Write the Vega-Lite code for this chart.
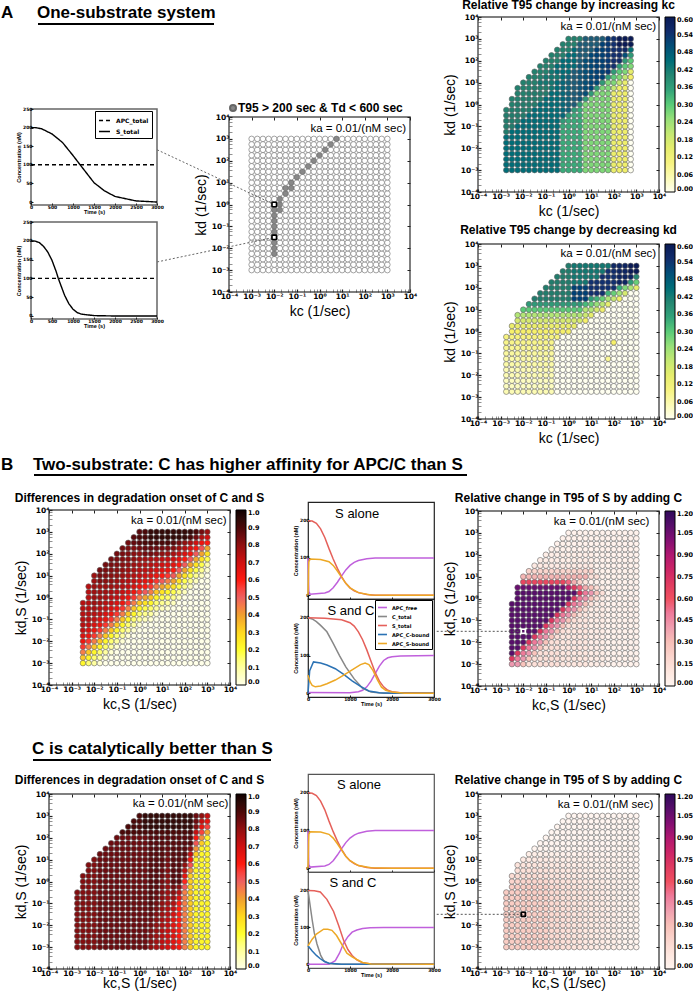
{"$schema":"https://vega.github.io/schema/vega-lite/v6.json","padding":{"left":1,"top":-2,"right":0,"bottom":0},"background":"white",
"config":{"view":{"stroke":null},"axis":{"grid":false,"domain":false,"labelFont":"DejaVu Sans","labelFontWeight":"bold","labelFontSize":7.5,"labelColor":"black","tickColor":"#222","titleFont":"Liberation Sans","titleFontWeight":"normal","titleFontSize":14,"titleColor":"black","labelPadding":3,"labelOverlap":false,"labelFlush":false},"legend":{"title":null,"orient":"right","offset":5,"gradientLength":175,"gradientThickness":10,"labelFont":"DejaVu Sans","labelFontWeight":"bold","labelFontSize":6.5,"labelColor":"black","gradientStrokeColor":"black","gradientStrokeWidth":1,"labelOverlap":false,"labelOffset":1}},
"datasets":{"grid":[
{"x":-12,"y":-12},{"x":-11,"y":-12,"a":45,"e":82,"f":24},{"x":-10,"y":-12,"a":45,"c":22,"d":42,"e":82,"f":24},{"x":-9,"y":-12,"a":45,"c":15,"d":42,"e":82,"f":24},{"x":-8,"y":-12,"a":45,"c":10,"d":28,"e":82,"f":24},{"x":-7,"y":-12,"a":45,"c":3,"d":15,"e":85,"f":24},{"x":-6,"y":-12,"a":45,"c":0,"d":15,"e":85,"f":24},{"x":-5,"y":-12,"a":45,"c":0,"d":15,"e":85,"f":22},{"x":-4,"y":-12,"a":45,"c":0,"d":15,"e":85,"f":22},{"x":-3,"y":-12,"a":45,"c":0,"d":15,"e":85,"f":18},{"x":-2,"y":-12,"a":45,"c":0,"d":15,"e":85,"f":18},{"x":-1,"y":-12,"a":34,"c":0,"d":10,"e":85,"f":15},{"x":0,"y":-12,"a":34,"c":0,"d":10,"e":85,"f":15},{"x":1,"y":-12,"a":34,"c":0,"d":10,"e":85,"f":12},{"x":2,"y":-12,"a":34,"c":0,"d":10,"e":80,"f":12},{"x":3,"y":-12,"a":27,"c":0,"d":10,"e":76,"f":9},{"x":4,"y":-12,"a":27,"c":0,"d":6,"e":72,"f":9},{"x":5,"y":-12,"a":27,"c":0,"d":6,"e":68,"f":7},{"x":6,"y":-12,"a":27,"c":0,"d":6,"e":66,"f":7},{"x":7,"y":-12,"a":27,"c":0,"d":2,"e":60,"f":5},{"x":8,"y":-12,"a":14,"c":0,"d":2,"e":45,"f":5},{"x":9,"y":-12,"a":13,"c":0,"d":2,"e":32,"f":3},{"x":10,"y":-12,"a":13,"c":0,"d":2,"e":22,"f":1},{"x":11,"y":-12,"a":0,"c":0,"d":2,"e":22,"f":1},{"x":12,"y":-12,"c":0,"d":2,"e":22,"f":1},
{"x":-12,"y":-11},{"x":-11,"y":-11,"a":45,"b":5,"e":82,"f":24},{"x":-10,"y":-11,"a":45,"b":5,"c":33,"d":72,"e":82,"f":24},{"x":-9,"y":-11,"a":45,"b":5,"c":22,"d":50,"e":82,"f":24},{"x":-8,"y":-11,"a":45,"b":5,"c":15,"d":42,"e":82,"f":24},{"x":-7,"y":-11,"a":45,"b":5,"c":10,"d":28,"e":85,"f":24},{"x":-6,"y":-11,"a":45,"b":5,"c":3,"d":15,"e":85,"f":24},{"x":-5,"y":-11,"a":45,"b":5,"c":0,"d":15,"e":85,"f":22},{"x":-4,"y":-11,"a":45,"b":5,"c":0,"d":15,"e":85,"f":22},{"x":-3,"y":-11,"a":45,"b":5,"c":0,"d":15,"e":85,"f":18},{"x":-2,"y":-11,"a":45,"b":0,"c":0,"d":15,"e":85,"f":18},{"x":-1,"y":-11,"a":34,"b":0,"c":0,"d":10,"e":85,"f":15},{"x":0,"y":-11,"a":34,"b":0,"c":0,"d":10,"e":85,"f":15},{"x":1,"y":-11,"a":34,"b":0,"c":0,"d":10,"e":85,"f":12},{"x":2,"y":-11,"a":34,"b":0,"c":0,"d":10,"e":81,"f":12},{"x":3,"y":-11,"a":27,"b":0,"c":0,"d":10,"e":77,"f":9},{"x":4,"y":-11,"a":27,"b":0,"c":0,"d":6,"e":73,"f":9},{"x":5,"y":-11,"a":27,"b":0,"c":0,"d":6,"e":69,"f":7},{"x":6,"y":-11,"a":27,"b":0,"c":0,"d":6,"e":66,"f":7},{"x":7,"y":-11,"a":27,"b":0,"c":0,"d":2,"e":60,"f":5},{"x":8,"y":-11,"a":14,"b":0,"c":0,"d":2,"e":45,"f":5},{"x":9,"y":-11,"a":13,"b":0,"c":0,"d":2,"e":32,"f":3},{"x":10,"y":-11,"a":13,"b":0,"c":0,"d":2,"e":22,"f":1},{"x":11,"y":-11,"a":0,"b":0,"c":0,"d":2,"e":22,"f":1},{"x":12,"y":-11,"b":0,"c":0,"d":2,"e":22,"f":1},
{"x":-12,"y":-10},{"x":-11,"y":-10,"a":45,"b":4,"e":82,"f":24},{"x":-10,"y":-10,"a":45,"b":4,"c":45,"d":110,"e":82,"f":24},{"x":-9,"y":-10,"a":45,"b":4,"c":33,"d":72,"e":82,"f":24},{"x":-8,"y":-10,"a":45,"b":4,"c":22,"d":50,"e":82,"f":24},{"x":-7,"y":-10,"a":45,"b":4,"c":15,"d":42,"e":85,"f":24},{"x":-6,"y":-10,"a":45,"b":4,"c":10,"d":28,"e":85,"f":24},{"x":-5,"y":-10,"a":45,"b":4,"c":3,"d":15,"e":85,"f":22},{"x":-4,"y":-10,"a":45,"b":4,"c":0,"d":15,"e":85,"f":22},{"x":-3,"y":-10,"a":45,"b":4,"c":0,"d":15,"e":85,"f":18},{"x":-2,"y":-10,"a":45,"b":0,"c":0,"d":15,"e":85,"f":18},{"x":-1,"y":-10,"a":34,"b":0,"c":0,"d":10,"e":85,"f":15},{"x":0,"y":-10,"a":34,"b":0,"c":0,"d":10,"e":85,"f":15},{"x":1,"y":-10,"a":34,"b":0,"c":0,"d":10,"e":85,"f":12},{"x":2,"y":-10,"a":34,"b":0,"c":0,"d":10,"e":82,"f":12},{"x":3,"y":-10,"a":27,"b":0,"c":0,"d":10,"e":78,"f":9},{"x":4,"y":-10,"a":27,"b":0,"c":0,"d":6,"e":74,"f":9},{"x":5,"y":-10,"a":27,"b":0,"c":0,"d":6,"e":70,"f":7},{"x":6,"y":-10,"a":27,"b":0,"c":0,"d":6,"e":66,"f":7},{"x":7,"y":-10,"a":27,"b":0,"c":0,"d":2,"e":60,"f":5},{"x":8,"y":-10,"a":14,"b":0,"c":0,"d":2,"e":45,"f":5},{"x":9,"y":-10,"a":13,"b":0,"c":0,"d":2,"e":32,"f":3},{"x":10,"y":-10,"a":13,"b":0,"c":0,"d":2,"e":22,"f":1},{"x":11,"y":-10,"a":0,"b":0,"c":0,"d":2,"e":22,"f":1},{"x":12,"y":-10,"b":0,"c":0,"d":2,"e":22,"f":1},
{"x":-12,"y":-9},{"x":-11,"y":-9,"a":45,"b":4,"e":82,"f":24},{"x":-10,"y":-9,"a":45,"b":4,"c":57,"d":110,"e":82,"f":24},{"x":-9,"y":-9,"a":45,"b":4,"c":45,"d":110,"e":82,"f":24},{"x":-8,"y":-9,"m":1,"a":45,"b":4,"c":33,"d":72,"e":82,"f":24},{"x":-7,"y":-9,"a":45,"b":4,"c":22,"d":50,"e":85,"f":24},{"x":-6,"y":-9,"a":45,"b":4,"c":15,"d":42,"e":85,"f":24},{"x":-5,"y":-9,"a":45,"b":4,"c":10,"d":28,"e":85,"f":22},{"x":-4,"y":-9,"a":45,"b":4,"c":3,"d":15,"e":85,"f":22},{"x":-3,"y":-9,"a":45,"b":4,"c":0,"d":15,"e":85,"f":18},{"x":-2,"y":-9,"a":45,"b":0,"c":0,"d":15,"e":85,"f":18},{"x":-1,"y":-9,"a":34,"b":0,"c":0,"d":10,"e":85,"f":15},{"x":0,"y":-9,"a":34,"b":0,"c":0,"d":10,"e":85,"f":15},{"x":1,"y":-9,"a":34,"b":0,"c":0,"d":10,"e":85,"f":12},{"x":2,"y":-9,"a":34,"b":0,"c":0,"d":10,"e":83,"f":12},{"x":3,"y":-9,"a":27,"b":0,"c":0,"d":10,"e":79,"f":9},{"x":4,"y":-9,"a":27,"b":0,"c":0,"d":6,"e":75,"f":9},{"x":5,"y":-9,"a":27,"b":0,"c":0,"d":6,"e":71,"f":7},{"x":6,"y":-9,"a":27,"b":0,"c":0,"d":6,"e":66,"f":7},{"x":7,"y":-9,"a":27,"b":0,"c":0,"d":2,"e":60,"f":5},{"x":8,"y":-9,"a":14,"b":0,"c":0,"d":2,"e":45,"f":5},{"x":9,"y":-9,"a":13,"b":0,"c":0,"d":2,"e":32,"f":3},{"x":10,"y":-9,"a":13,"b":0,"c":0,"d":2,"e":22,"f":1},{"x":11,"y":-9,"a":0,"b":0,"c":0,"d":2,"e":22,"f":1},{"x":12,"y":-9,"b":0,"c":0,"d":2,"e":22,"f":1},
{"x":-12,"y":-8},{"x":-11,"y":-8,"a":45,"b":5,"e":82,"f":24},{"x":-10,"y":-8,"a":45,"b":5,"c":64,"d":110,"e":82,"f":24},{"x":-9,"y":-8,"a":45,"b":5,"c":57,"d":110,"e":82,"f":24},{"x":-8,"y":-8,"m":1,"a":45,"b":5,"c":45,"d":110,"e":82,"f":24},{"x":-7,"y":-8,"a":45,"b":5,"c":33,"d":72,"e":85,"f":24},{"x":-6,"y":-8,"a":45,"b":5,"c":22,"d":50,"e":85,"f":24},{"x":-5,"y":-8,"a":45,"b":5,"c":15,"d":42,"e":85,"f":22},{"x":-4,"y":-8,"a":45,"b":5,"c":10,"d":28,"e":85,"f":22},{"x":-3,"y":-8,"a":45,"b":5,"c":3,"d":15,"e":85,"f":18},{"x":-2,"y":-8,"a":45,"b":0,"c":0,"d":15,"e":85,"f":18},{"x":-1,"y":-8,"a":34,"b":0,"c":0,"d":10,"e":85,"f":15},{"x":0,"y":-8,"a":34,"b":0,"c":0,"d":10,"e":85,"f":15},{"x":1,"y":-8,"a":34,"b":0,"c":0,"d":10,"e":85,"f":12},{"x":2,"y":-8,"a":34,"b":0,"c":0,"d":10,"e":84,"f":12},{"x":3,"y":-8,"a":27,"b":0,"c":0,"d":10,"e":80,"f":9},{"x":4,"y":-8,"a":27,"b":0,"c":0,"d":6,"e":76,"f":9},{"x":5,"y":-8,"a":27,"b":0,"c":0,"d":6,"e":72,"f":7},{"x":6,"y":-8,"a":27,"b":0,"c":0,"d":6,"e":66,"f":7},{"x":7,"y":-8,"a":27,"b":0,"c":0,"d":2,"e":60,"f":5},{"x":8,"y":-8,"a":14,"b":0,"c":0,"d":2,"e":45,"f":5},{"x":9,"y":-8,"a":13,"b":0,"c":0,"d":2,"e":32,"f":3},{"x":10,"y":-8,"a":13,"b":0,"c":0,"d":2,"e":22,"f":1},{"x":11,"y":-8,"a":0,"b":0,"c":0,"d":2,"e":22,"f":1},{"x":12,"y":-8,"b":0,"c":0,"d":2,"e":22,"f":1},
{"x":-12,"y":-7},{"x":-11,"y":-7,"a":45,"b":5,"e":82,"f":24},{"x":-10,"y":-7,"a":45,"b":5,"c":68,"d":110,"e":82,"f":24},{"x":-9,"y":-7,"a":45,"b":5,"c":64,"d":110,"e":82,"f":24},{"x":-8,"y":-7,"m":1,"a":45,"b":5,"c":57,"d":110,"e":82,"f":24},{"x":-7,"y":-7,"a":45,"b":5,"c":45,"d":110,"e":85,"f":24},{"x":-6,"y":-7,"a":45,"b":5,"c":33,"d":72,"e":85,"f":24},{"x":-5,"y":-7,"a":45,"b":5,"c":22,"d":50,"e":85,"f":22},{"x":-4,"y":-7,"a":45,"b":5,"c":15,"d":42,"e":85,"f":22},{"x":-3,"y":-7,"a":45,"b":5,"c":10,"d":28,"e":85,"f":18},{"x":-2,"y":-7,"a":45,"b":0,"c":3,"d":15,"e":85,"f":18},{"x":-1,"y":-7,"a":34,"b":0,"c":0,"d":10,"e":85,"f":15},{"x":0,"y":-7,"a":34,"b":0,"c":0,"d":10,"e":85,"f":15},{"x":1,"y":-7,"a":34,"b":0,"c":0,"d":10,"e":85,"f":12},{"x":2,"y":-7,"a":34,"b":0,"c":0,"d":10,"e":85,"f":12},{"x":3,"y":-7,"a":27,"b":0,"c":0,"d":10,"e":81,"f":9},{"x":4,"y":-7,"a":27,"b":0,"c":0,"d":6,"e":77,"f":9},{"x":5,"y":-7,"a":27,"b":0,"c":0,"d":6,"e":73,"f":7},{"x":6,"y":-7,"a":27,"b":0,"c":0,"d":6,"e":66,"f":7},{"x":7,"y":-7,"a":27,"b":0,"c":0,"d":2,"e":60,"f":5},{"x":8,"y":-7,"a":14,"b":0,"c":0,"d":2,"e":45,"f":5},{"x":9,"y":-7,"a":13,"b":0,"c":0,"d":2,"e":32,"f":3},{"x":10,"y":-7,"a":13,"b":0,"c":0,"d":2,"e":22,"f":1},{"x":11,"y":-7,"a":0,"b":0,"c":0,"d":2,"e":22,"f":1},{"x":12,"y":-7,"b":0,"c":0,"d":2,"e":22,"f":1},
{"x":-12,"y":-6},{"x":-11,"y":-6,"a":45,"b":6,"e":82,"f":24},{"x":-10,"y":-6,"a":45,"b":6,"c":72,"d":110,"e":82,"f":24},{"x":-9,"y":-6,"a":45,"b":6,"c":68,"d":110,"e":82,"f":24},{"x":-8,"y":-6,"m":1,"a":45,"b":6,"c":64,"d":110,"e":82,"f":24},{"x":-7,"y":-6,"a":45,"b":6,"c":57,"d":110,"e":85,"f":24},{"x":-6,"y":-6,"a":45,"b":6,"c":45,"d":110,"e":85,"f":24},{"x":-5,"y":-6,"a":45,"b":6,"c":33,"d":72,"e":85,"f":22},{"x":-4,"y":-6,"a":45,"b":6,"c":22,"d":50,"e":85,"f":22},{"x":-3,"y":-6,"a":45,"b":6,"c":15,"d":42,"e":85,"f":18},{"x":-2,"y":-6,"a":45,"b":0,"c":10,"d":28,"e":85,"f":18},{"x":-1,"y":-6,"a":34,"b":0,"c":3,"d":15,"e":85,"f":15},{"x":0,"y":-6,"a":34,"b":0,"c":0,"d":10,"e":85,"f":15},{"x":1,"y":-6,"a":34,"b":0,"c":0,"d":10,"e":85,"f":12},{"x":2,"y":-6,"a":34,"b":0,"c":0,"d":10,"e":86,"f":12},{"x":3,"y":-6,"a":27,"b":0,"c":0,"d":10,"e":82,"f":9},{"x":4,"y":-6,"a":27,"b":0,"c":0,"d":6,"e":78,"f":9},{"x":5,"y":-6,"a":27,"b":0,"c":0,"d":6,"e":74,"f":7},{"x":6,"y":-6,"a":27,"b":0,"c":0,"d":6,"e":69,"f":7},{"x":7,"y":-6,"a":27,"b":0,"c":0,"d":2,"e":60,"f":5},{"x":8,"y":-6,"a":14,"b":0,"c":0,"d":2,"e":45,"f":5},{"x":9,"y":-6,"a":13,"b":0,"c":0,"d":2,"e":32,"f":3},{"x":10,"y":-6,"a":13,"b":0,"c":0,"d":2,"e":22,"f":1},{"x":11,"y":-6,"a":0,"b":0,"c":0,"d":2,"e":22,"f":1},{"x":12,"y":-6,"b":0,"c":0,"d":2,"e":22,"f":1},
{"x":-12,"y":-5},{"x":-11,"y":-5,"a":42,"b":6,"e":82,"f":24},{"x":-10,"y":-5,"a":45,"b":6,"c":74,"d":110,"e":82,"f":24},{"x":-9,"y":-5,"a":45,"b":6,"c":72,"d":110,"e":82,"f":24},{"x":-8,"y":-5,"m":1,"a":45,"b":6,"c":68,"d":110,"e":82,"f":24},{"x":-7,"y":-5,"a":45,"b":6,"c":64,"d":110,"e":85,"f":24},{"x":-6,"y":-5,"a":45,"b":6,"c":57,"d":110,"e":85,"f":24},{"x":-5,"y":-5,"a":45,"b":6,"c":45,"d":110,"e":85,"f":22},{"x":-4,"y":-5,"a":45,"b":6,"c":33,"d":72,"e":85,"f":22},{"x":-3,"y":-5,"a":45,"b":6,"c":22,"d":50,"e":85,"f":18},{"x":-2,"y":-5,"a":45,"b":0,"c":15,"d":42,"e":85,"f":18},{"x":-1,"y":-5,"a":34,"b":0,"c":10,"d":28,"e":85,"f":15},{"x":0,"y":-5,"a":34,"b":0,"c":3,"d":15,"e":85,"f":15},{"x":1,"y":-5,"a":34,"b":0,"c":0,"d":10,"e":85,"f":12},{"x":2,"y":-5,"a":34,"b":0,"c":0,"d":10,"e":87,"f":12},{"x":3,"y":-5,"a":27,"b":0,"c":0,"d":10,"e":83,"f":9},{"x":4,"y":-5,"a":27,"b":0,"c":0,"d":6,"e":79,"f":9},{"x":5,"y":-5,"a":27,"b":0,"c":0,"d":6,"e":75,"f":7},{"x":6,"y":-5,"a":27,"b":0,"c":0,"d":6,"e":72,"f":7},{"x":7,"y":-5,"a":27,"b":8,"c":0,"d":2,"e":60,"f":5},{"x":8,"y":-5,"a":14,"b":0,"c":0,"d":2,"e":45,"f":5},{"x":9,"y":-5,"a":13,"b":0,"c":0,"d":2,"e":32,"f":3},{"x":10,"y":-5,"a":13,"b":0,"c":0,"d":2,"e":22,"f":1},{"x":11,"y":-5,"a":0,"b":0,"c":0,"d":2,"e":22,"f":1},{"x":12,"y":-5,"b":0,"c":0,"d":2,"e":22,"f":1},
{"x":-12,"y":-4},{"x":-11,"y":-4,"a":42,"b":7,"e":82,"f":24},{"x":-10,"y":-4,"a":42,"b":7,"c":74,"d":110,"e":82,"f":24},{"x":-9,"y":-4,"a":45,"b":7,"c":74,"d":110,"e":82,"f":24},{"x":-8,"y":-4,"m":1,"a":45,"b":7,"c":72,"d":110,"e":82,"f":24},{"x":-7,"y":-4,"a":45,"b":7,"c":68,"d":110,"e":85,"f":24},{"x":-6,"y":-4,"a":45,"b":7,"c":64,"d":110,"e":85,"f":24},{"x":-5,"y":-4,"a":45,"b":7,"c":57,"d":110,"e":85,"f":22},{"x":-4,"y":-4,"a":45,"b":7,"c":45,"d":110,"e":85,"f":22},{"x":-3,"y":-4,"a":45,"b":7,"c":33,"d":72,"e":85,"f":18},{"x":-2,"y":-4,"a":45,"b":0,"c":22,"d":50,"e":85,"f":18},{"x":-1,"y":-4,"a":34,"b":0,"c":15,"d":42,"e":85,"f":15},{"x":0,"y":-4,"a":34,"b":0,"c":10,"d":28,"e":85,"f":15},{"x":1,"y":-4,"a":34,"b":0,"c":6,"d":15,"e":85,"f":12},{"x":2,"y":-4,"a":34,"b":0,"c":3,"d":10,"e":88,"f":12},{"x":3,"y":-4,"a":27,"b":0,"c":0,"d":10,"e":84,"f":9},{"x":4,"y":-4,"a":27,"b":0,"c":0,"d":6,"e":80,"f":9},{"x":5,"y":-4,"a":27,"b":0,"c":0,"d":6,"e":76,"f":7},{"x":6,"y":-4,"a":27,"b":0,"c":0,"d":6,"e":75,"f":7},{"x":7,"y":-4,"a":27,"b":0,"c":0,"d":2,"e":60,"f":5},{"x":8,"y":-4,"a":14,"b":0,"c":0,"d":2,"e":45,"f":5},{"x":9,"y":-4,"a":13,"b":0,"c":0,"d":2,"e":32,"f":3},{"x":10,"y":-4,"a":13,"b":0,"c":0,"d":2,"e":22,"f":1},{"x":11,"y":-4,"a":0,"b":0,"c":0,"d":2,"e":22,"f":1},{"x":12,"y":-4,"b":0,"c":0,"d":2,"e":22,"f":1},
{"x":-12,"y":-3},{"x":-11,"y":-3,"a":42,"b":8,"e":82,"f":24},{"x":-10,"y":-3,"a":42,"b":8,"c":74,"d":110,"e":82,"f":24},{"x":-9,"y":-3,"a":42,"b":8,"c":74,"d":110,"e":82,"f":24},{"x":-8,"y":-3,"m":1,"a":45,"b":8,"c":74,"d":110,"e":82,"f":24},{"x":-7,"y":-3,"a":45,"b":8,"c":72,"d":110,"e":85,"f":24},{"x":-6,"y":-3,"a":45,"b":8,"c":68,"d":110,"e":85,"f":24},{"x":-5,"y":-3,"a":45,"b":8,"c":64,"d":110,"e":85,"f":22},{"x":-4,"y":-3,"a":45,"b":8,"c":57,"d":110,"e":85,"f":22},{"x":-3,"y":-3,"a":45,"b":8,"c":45,"d":110,"e":85,"f":18},{"x":-2,"y":-3,"a":45,"b":0,"c":33,"d":72,"e":85,"f":18},{"x":-1,"y":-3,"a":36,"b":0,"c":22,"d":50,"e":85,"f":15},{"x":0,"y":-3,"a":34,"b":0,"c":15,"d":42,"e":85,"f":15},{"x":1,"y":-3,"a":34,"b":0,"c":12,"d":28,"e":85,"f":12},{"x":2,"y":-3,"a":34,"b":0,"c":10,"d":15,"e":88,"f":12},{"x":3,"y":-3,"a":27,"b":0,"c":3,"d":10,"e":85,"f":9},{"x":4,"y":-3,"a":27,"b":0,"c":0,"d":6,"e":81,"f":9},{"x":5,"y":-3,"a":27,"b":0,"c":0,"d":6,"e":77,"f":7},{"x":6,"y":-3,"a":27,"b":0,"c":0,"d":6,"e":78,"f":7},{"x":7,"y":-3,"a":27,"b":0,"c":0,"d":2,"e":67,"f":5},{"x":8,"y":-3,"a":14,"b":0,"c":0,"d":2,"e":45,"f":5},{"x":9,"y":-3,"a":13,"b":0,"c":0,"d":2,"e":32,"f":3},{"x":10,"y":-3,"a":13,"b":0,"c":0,"d":2,"e":22,"f":1},{"x":11,"y":-3,"a":0,"b":0,"c":0,"d":2,"e":22,"f":1},{"x":12,"y":-3,"b":0,"c":0,"d":2,"e":22,"f":1},
{"x":-12,"y":-2},{"x":-11,"y":-2,"a":42,"b":9,"e":82,"f":24},{"x":-10,"y":-2,"a":42,"b":9,"c":74,"d":110,"e":82,"f":24},{"x":-9,"y":-2,"a":42,"b":9,"c":74,"d":110,"e":82,"f":24},{"x":-8,"y":-2,"m":1,"a":42,"b":9,"c":76,"d":110,"e":82,"f":24},{"x":-7,"y":-2,"a":45,"b":9,"c":74,"d":110,"e":85,"f":24},{"x":-6,"y":-2,"a":45,"b":9,"c":72,"d":110,"e":85,"f":24},{"x":-5,"y":-2,"a":45,"b":9,"c":68,"d":110,"e":85,"f":22},{"x":-4,"y":-2,"a":45,"b":9,"c":64,"d":110,"e":85,"f":22},{"x":-3,"y":-2,"a":45,"b":9,"c":57,"d":110,"e":85,"f":18},{"x":-2,"y":-2,"a":45,"b":0,"c":45,"d":110,"e":85,"f":18},{"x":-1,"y":-2,"a":46,"b":0,"c":33,"d":72,"e":85,"f":15},{"x":0,"y":-2,"a":36,"b":0,"c":22,"d":50,"e":85,"f":15},{"x":1,"y":-2,"a":34,"b":0,"c":18,"d":42,"e":85,"f":12},{"x":2,"y":-2,"a":34,"b":0,"c":15,"d":28,"e":88,"f":12},{"x":3,"y":-2,"a":27,"b":0,"c":10,"d":15,"e":86,"f":9},{"x":4,"y":-2,"a":27,"b":0,"c":6,"d":6,"e":82,"f":9},{"x":5,"y":-2,"a":27,"b":0,"c":3,"d":6,"e":78,"f":7},{"x":6,"y":-2,"a":27,"b":0,"c":0,"d":6,"e":81,"f":7},{"x":7,"y":-2,"a":27,"b":0,"c":0,"d":2,"e":74,"f":5},{"x":8,"y":-2,"a":14,"b":12,"c":0,"d":2,"e":45,"f":5},{"x":9,"y":-2,"a":13,"b":0,"c":0,"d":2,"e":32,"f":3},{"x":10,"y":-2,"a":13,"b":0,"c":0,"d":2,"e":22,"f":1},{"x":11,"y":-2,"a":0,"b":0,"c":0,"d":2,"e":22,"f":1},{"x":12,"y":-2,"b":0,"c":0,"d":2,"e":22,"f":1},
{"x":-12,"y":-1},{"x":-11,"y":-1,"a":41,"b":10},{"x":-10,"y":-1,"a":42,"b":10,"c":74,"d":110,"e":82,"f":24},{"x":-9,"y":-1,"a":42,"b":10,"c":74,"d":110,"e":82,"f":24},{"x":-8,"y":-1,"m":1,"a":42,"b":10,"c":78,"d":110,"e":82,"f":24},{"x":-7,"y":-1,"m":1,"a":42,"b":10,"c":76,"d":110,"e":85,"f":24},{"x":-6,"y":-1,"a":45,"b":10,"c":74,"d":110,"e":85,"f":24},{"x":-5,"y":-1,"a":45,"b":10,"c":72,"d":110,"e":85,"f":22},{"x":-4,"y":-1,"a":45,"b":10,"c":68,"d":110,"e":85,"f":22},{"x":-3,"y":-1,"a":45,"b":10,"c":64,"d":110,"e":85,"f":18},{"x":-2,"y":-1,"a":45,"b":10,"c":57,"d":110,"e":85,"f":18},{"x":-1,"y":-1,"a":46,"b":0,"c":45,"d":110,"e":85,"f":15},{"x":0,"y":-1,"a":47,"b":0,"c":33,"d":72,"e":85,"f":15},{"x":1,"y":-1,"a":36,"b":0,"c":27,"d":50,"e":85,"f":12},{"x":2,"y":-1,"a":34,"b":0,"c":22,"d":42,"e":88,"f":12},{"x":3,"y":-1,"a":27,"b":0,"c":15,"d":28,"e":87,"f":9},{"x":4,"y":-1,"a":27,"b":0,"c":12,"d":15,"e":83,"f":9},{"x":5,"y":-1,"a":27,"b":0,"c":10,"d":6,"e":79,"f":7},{"x":6,"y":-1,"a":27,"b":0,"c":6,"d":6,"e":84,"f":7},{"x":7,"y":-1,"a":27,"b":0,"c":0,"d":2,"e":81,"f":5},{"x":8,"y":-1,"a":14,"b":0,"c":0,"d":2,"e":52,"f":5},{"x":9,"y":-1,"a":13,"b":0,"c":0,"d":2,"e":32,"f":3},{"x":10,"y":-1,"a":13,"b":0,"c":0,"d":2,"e":22,"f":1},{"x":11,"y":-1,"a":0,"b":0,"c":0,"d":2,"e":22,"f":1},{"x":12,"y":-1,"b":0,"c":0,"d":2,"e":22,"f":1},
{"x":-12,"y":0},{"x":-11,"y":0},{"x":-10,"y":0,"a":41,"b":12,"e":82,"f":20},{"x":-9,"y":0,"a":42,"b":12,"c":74,"d":110,"e":82,"f":20},{"x":-8,"y":0,"m":1,"a":42,"b":12,"c":78,"d":110,"e":82,"f":20},{"x":-7,"y":0,"m":1,"a":42,"b":12,"c":78,"d":110,"e":85,"f":20},{"x":-6,"y":0,"a":42,"b":12,"c":76,"d":110,"e":85,"f":20},{"x":-5,"y":0,"a":45,"b":12,"c":74,"d":110,"e":85,"f":19},{"x":-4,"y":0,"a":45,"b":12,"c":72,"d":110,"e":85,"f":19},{"x":-3,"y":0,"a":45,"b":12,"c":68,"d":110,"e":85,"f":15},{"x":-2,"y":0,"a":45,"b":12,"c":64,"d":110,"e":85,"f":15},{"x":-1,"y":0,"a":46,"b":12,"c":57,"d":110,"e":85,"f":13},{"x":0,"y":0,"a":47,"b":12,"c":45,"d":110,"e":85,"f":13},{"x":1,"y":0,"a":48,"b":0,"c":39,"d":72,"e":85,"f":10},{"x":2,"y":0,"a":36,"b":0,"c":33,"d":50,"e":88,"f":10},{"x":3,"y":0,"a":27,"b":0,"c":22,"d":42,"e":88,"f":8},{"x":4,"y":0,"a":27,"b":0,"c":18,"d":28,"e":84,"f":8},{"x":5,"y":0,"a":27,"b":0,"c":15,"d":15,"e":80,"f":6},{"x":6,"y":0,"a":27,"b":0,"c":12,"d":6,"e":88,"f":6},{"x":7,"y":0,"a":27,"b":0,"c":6,"d":2,"e":88,"f":4},{"x":8,"y":0,"a":14,"b":0,"c":0,"d":2,"e":59,"f":4},{"x":9,"y":0,"a":13,"b":0,"c":0,"d":2,"e":32,"f":3},{"x":10,"y":0,"a":13,"b":0,"c":0,"d":2,"e":22,"f":1},{"x":11,"y":0,"a":0,"b":0,"c":0,"d":2,"e":22,"f":1},{"x":12,"y":0,"b":0,"c":0,"d":2,"e":22,"f":1},
{"x":-12,"y":1},{"x":-11,"y":1},{"x":-10,"y":1,"a":41,"b":14,"e":82,"f":17},{"x":-9,"y":1,"a":41,"b":14,"c":74,"d":110,"e":82,"f":17},{"x":-8,"y":1,"a":42,"b":14,"c":78,"d":110,"e":82,"f":17},{"x":-7,"y":1,"m":1,"a":42,"b":14,"c":78,"d":110,"e":85,"f":17},{"x":-6,"y":1,"a":42,"b":14,"c":78,"d":110,"e":85,"f":17},{"x":-5,"y":1,"a":42,"b":14,"c":76,"d":110,"e":85,"f":15},{"x":-4,"y":1,"a":45,"b":14,"c":74,"d":110,"e":85,"f":15},{"x":-3,"y":1,"a":45,"b":14,"c":72,"d":110,"e":85,"f":13},{"x":-2,"y":1,"a":45,"b":14,"c":68,"d":110,"e":85,"f":13},{"x":-1,"y":1,"a":46,"b":14,"c":64,"d":110,"e":85,"f":10},{"x":0,"y":1,"a":47,"b":14,"c":57,"d":110,"e":85,"f":10},{"x":1,"y":1,"a":48,"b":14,"c":51,"d":110,"e":85,"f":8},{"x":2,"y":1,"a":49,"b":0,"c":45,"d":72,"e":88,"f":8},{"x":3,"y":1,"a":36,"b":0,"c":33,"d":50,"e":88,"f":6},{"x":4,"y":1,"a":27,"b":0,"c":27,"d":42,"e":85,"f":6},{"x":5,"y":1,"a":27,"b":0,"c":22,"d":28,"e":81,"f":5},{"x":6,"y":1,"a":27,"b":0,"c":18,"d":15,"e":88,"f":5},{"x":7,"y":1,"a":27,"b":0,"c":12,"d":2,"e":88,"f":3},{"x":8,"y":1,"a":14,"b":0,"c":6,"d":2,"e":66,"f":3},{"x":9,"y":1,"a":13,"b":0,"c":0,"d":2,"e":32,"f":2},{"x":10,"y":1,"a":13,"b":0,"c":0,"d":2,"e":22,"f":1},{"x":11,"y":1,"a":0,"b":0,"c":0,"d":2,"e":22,"f":1},{"x":12,"y":1,"b":0,"c":0,"d":2,"e":22,"f":1},
{"x":-12,"y":2},{"x":-11,"y":2},{"x":-10,"y":2},{"x":-9,"y":2,"a":41,"b":18,"c":74,"d":105,"e":82,"f":14},{"x":-8,"y":2,"a":41,"b":18,"c":78,"d":105,"e":82,"f":14},{"x":-7,"y":2,"a":42,"b":18,"c":78,"d":105,"e":85,"f":14},{"x":-6,"y":2,"m":1,"a":42,"b":18,"c":78,"d":105,"e":85,"f":14},{"x":-5,"y":2,"a":42,"b":18,"c":78,"d":105,"e":85,"f":13},{"x":-4,"y":2,"a":42,"b":18,"c":76,"d":105,"e":85,"f":13},{"x":-3,"y":2,"a":45,"b":18,"c":74,"d":105,"e":85,"f":11},{"x":-2,"y":2,"a":45,"b":18,"c":72,"d":105,"e":85,"f":11},{"x":-1,"y":2,"a":46,"b":18,"c":68,"d":105,"e":85,"f":9},{"x":0,"y":2,"a":47,"b":18,"c":64,"d":85,"e":85,"f":9},{"x":1,"y":2,"a":48,"b":18,"c":60,"d":70,"e":85,"f":7},{"x":2,"y":2,"a":49,"b":18,"c":57,"d":55,"e":88,"f":7},{"x":3,"y":2,"a":50,"b":12,"c":45,"d":35,"e":88,"f":5},{"x":4,"y":2,"a":36,"b":0,"c":39,"d":28,"e":86,"f":5},{"x":5,"y":2,"a":27,"b":0,"c":33,"d":15,"e":82,"f":4},{"x":6,"y":2,"a":27,"b":0,"c":27,"d":6,"e":88,"f":4},{"x":7,"y":2,"a":27,"b":0,"c":18,"d":2,"e":88,"f":3},{"x":8,"y":2,"a":14,"b":0,"c":12,"d":2,"e":73,"f":3},{"x":9,"y":2,"a":13,"b":0,"c":6,"d":2,"e":42,"f":2},{"x":10,"y":2,"a":13,"b":0,"c":0,"d":2,"e":22,"f":0},{"x":11,"y":2,"a":0,"b":0,"c":0,"d":2,"e":22,"f":0},{"x":12,"y":2,"b":0,"c":0,"d":2,"e":22,"f":0},
{"x":-12,"y":3},{"x":-11,"y":3},{"x":-10,"y":3},{"x":-9,"y":3,"a":41,"b":22,"e":82,"f":12},{"x":-8,"y":3,"a":41,"b":22,"c":78,"d":65,"e":82,"f":12},{"x":-7,"y":3,"a":41,"b":22,"c":82,"d":65,"e":85,"f":12},{"x":-6,"y":3,"m":1,"a":42,"b":22,"c":81,"d":65,"e":85,"f":12},{"x":-5,"y":3,"m":1,"a":42,"b":22,"c":80,"d":65,"e":85,"f":11},{"x":-4,"y":3,"a":42,"b":22,"c":78,"d":65,"e":85,"f":11},{"x":-3,"y":3,"a":43,"b":22,"c":76,"d":65,"e":85,"f":9},{"x":-2,"y":3,"a":45,"b":22,"c":74,"d":65,"e":85,"f":9},{"x":-1,"y":3,"a":46,"b":22,"c":72,"d":65,"e":85,"f":7},{"x":0,"y":3,"a":47,"b":22,"c":68,"d":55,"e":85,"f":7},{"x":1,"y":3,"a":48,"b":22,"c":66,"d":35,"e":85,"f":6},{"x":2,"y":3,"a":49,"b":22,"c":64,"d":20,"e":88,"f":6},{"x":3,"y":3,"a":50,"b":19,"c":57,"d":10,"e":88,"f":4},{"x":4,"y":3,"a":51,"b":15,"c":51,"d":2,"e":87,"f":4},{"x":5,"y":3,"a":36,"b":0,"c":45,"d":2,"e":83,"f":3},{"x":6,"y":3,"a":27,"b":0,"c":39,"d":2,"e":88,"f":3},{"x":7,"y":3,"a":27,"b":0,"c":27,"d":2,"e":88,"f":2},{"x":8,"y":3,"a":20,"b":0,"c":18,"d":2,"e":80,"f":2},{"x":9,"y":3,"a":13,"b":0,"c":12,"d":2,"e":52,"f":1},{"x":10,"y":3,"a":13,"b":0,"c":6,"d":2,"e":22,"f":0},{"x":11,"y":3,"a":0,"b":0,"c":0,"d":2,"e":22,"f":0},{"x":12,"y":3,"b":0,"c":0,"d":2,"e":22,"f":0},
{"x":-12,"y":4},{"x":-11,"y":4},{"x":-10,"y":4},{"x":-9,"y":4},{"x":-8,"y":4,"a":41,"b":30,"c":78,"d":33,"e":82,"f":8},{"x":-7,"y":4,"a":41,"b":30,"c":83,"d":33,"e":85,"f":8},{"x":-6,"y":4,"a":41,"b":30,"c":82,"d":33,"e":85,"f":8},{"x":-5,"y":4,"m":1,"a":43,"b":30,"c":81,"d":33,"e":85,"f":8},{"x":-4,"y":4,"a":43,"b":30,"c":80,"d":33,"e":85,"f":8},{"x":-3,"y":4,"a":43,"b":30,"c":78,"d":33,"e":85,"f":6},{"x":-2,"y":4,"a":45,"b":30,"c":76,"d":33,"e":85,"f":6},{"x":-1,"y":4,"a":46,"b":30,"c":74,"d":33,"e":85,"f":5},{"x":0,"y":4,"a":47,"b":30,"c":72,"d":33,"e":85,"f":5},{"x":1,"y":4,"a":48,"b":30,"c":70,"d":33,"e":85,"f":4},{"x":2,"y":4,"a":49,"b":30,"c":68,"d":33,"e":88,"f":4},{"x":3,"y":4,"a":50,"b":22,"c":64,"d":33,"e":88,"f":3},{"x":4,"y":4,"a":51,"b":22,"c":60,"d":15,"e":88,"f":3},{"x":5,"y":4,"a":51,"b":18,"c":57,"d":15,"e":84,"f":2},{"x":6,"y":4,"a":36,"b":13,"c":51,"d":2,"e":88,"f":2},{"x":7,"y":4,"a":27,"b":0,"c":39,"d":2,"e":88,"f":2},{"x":8,"y":4,"a":27,"b":0,"c":27,"d":2,"e":87,"f":2},{"x":9,"y":4,"a":20,"b":0,"c":18,"d":2,"e":62,"f":1},{"x":10,"y":4,"a":14,"b":0,"c":12,"d":2,"e":22,"f":0},{"x":11,"y":4,"a":0,"b":0,"c":6,"d":2,"e":22,"f":0},{"x":12,"y":4,"b":0,"c":0,"d":2,"e":22,"f":0},
{"x":-12,"y":5},{"x":-11,"y":5},{"x":-10,"y":5},{"x":-9,"y":5},{"x":-8,"y":5},{"x":-7,"y":5,"a":41,"b":36,"c":84,"d":20,"e":85,"f":5},{"x":-6,"y":5,"a":41,"b":36,"c":83,"d":20,"e":85,"f":5},{"x":-5,"y":5,"a":41,"b":36,"c":82,"d":20,"e":85,"f":4},{"x":-4,"y":5,"m":1,"a":43,"b":36,"c":81,"d":20,"e":85,"f":4},{"x":-3,"y":5,"a":43,"b":36,"c":80,"d":20,"e":85,"f":4},{"x":-2,"y":5,"a":43,"b":36,"c":78,"d":20,"e":85,"f":4},{"x":-1,"y":5,"a":45,"b":36,"c":76,"d":20,"e":85,"f":3},{"x":0,"y":5,"a":47,"b":36,"c":74,"d":20,"e":85,"f":3},{"x":1,"y":5,"a":48,"b":36,"c":73,"d":20,"e":85,"f":2},{"x":2,"y":5,"a":49,"b":36,"c":72,"d":20,"e":88,"f":2},{"x":3,"y":5,"a":50,"b":32,"c":68,"d":20,"e":88,"f":2},{"x":4,"y":5,"a":51,"b":29,"c":66,"d":20,"e":88,"f":2},{"x":5,"y":5,"a":52,"b":25,"c":64,"d":3,"e":85,"f":1},{"x":6,"y":5,"a":52,"b":21,"c":60,"d":3,"e":88,"f":1},{"x":7,"y":5,"a":36,"b":15,"c":51,"d":3,"e":88,"f":1},{"x":8,"y":5,"a":30,"b":0,"c":39,"d":3,"e":88,"f":1},{"x":9,"y":5,"a":27,"b":0,"c":27,"d":3,"e":72,"f":1},{"x":10,"y":5,"a":20,"b":0,"c":18,"d":3,"e":32,"f":0},{"x":11,"y":5,"a":12,"b":0,"c":12,"d":3,"e":22,"f":0},{"x":12,"y":5,"b":0,"c":3,"d":3,"e":22,"f":0},
{"x":-12,"y":6},{"x":-11,"y":6},{"x":-10,"y":6},{"x":-9,"y":6},{"x":-8,"y":6},{"x":-7,"y":6},{"x":-6,"y":6,"a":41,"b":42,"c":84,"d":8,"e":85,"f":0},{"x":-5,"y":6,"a":41,"b":42,"c":83,"d":8,"e":85,"f":0},{"x":-4,"y":6,"a":41,"b":42,"c":82,"d":8,"e":85,"f":0},{"x":-3,"y":6,"m":1,"a":43,"b":42,"c":81,"d":8,"e":85,"f":0},{"x":-2,"y":6,"a":45,"b":42,"c":80,"d":8,"e":85,"f":0},{"x":-1,"y":6,"a":45,"b":42,"c":78,"d":8,"e":85,"f":0},{"x":0,"y":6,"a":45,"b":42,"c":76,"d":8,"e":85,"f":0},{"x":1,"y":6,"a":48,"b":52,"c":75,"d":8,"e":85,"f":0},{"x":2,"y":6,"a":49,"b":52,"c":74,"d":8,"e":88,"f":0},{"x":3,"y":6,"a":50,"b":52,"c":72,"d":8,"e":88,"f":0},{"x":4,"y":6,"a":51,"b":36,"c":70,"d":8,"e":88,"f":0},{"x":5,"y":6,"a":52,"b":33,"c":68,"d":2,"e":86,"f":0},{"x":6,"y":6,"a":52,"b":29,"c":66,"d":2,"e":88,"f":0},{"x":7,"y":6,"a":53,"b":23,"c":60,"d":2,"e":88,"f":0},{"x":8,"y":6,"a":36,"b":20,"c":51,"d":2,"e":88,"f":0},{"x":9,"y":6,"a":30,"b":13,"c":39,"d":2,"e":82,"f":0},{"x":10,"y":6,"a":27,"b":0,"c":27,"d":2,"e":42,"f":0},{"x":11,"y":6,"a":15,"b":0,"c":18,"d":2,"e":22,"f":0},{"x":12,"y":6,"b":0,"c":8,"d":2,"e":22,"f":0},
{"x":-12,"y":7},{"x":-11,"y":7},{"x":-10,"y":7},{"x":-9,"y":7},{"x":-8,"y":7},{"x":-7,"y":7},{"x":-6,"y":7},{"x":-5,"y":7,"a":41,"b":42,"c":84,"d":5,"e":85,"f":0},{"x":-4,"y":7,"a":41,"b":42,"c":83,"d":5,"e":85,"f":0},{"x":-3,"y":7,"a":41,"b":42,"c":82,"d":5,"e":85,"f":0},{"x":-2,"y":7,"m":1,"a":45,"b":42,"c":81,"d":5,"e":85,"f":0},{"x":-1,"y":7,"a":45,"b":42,"c":80,"d":5,"e":85,"f":0},{"x":0,"y":7,"a":45,"b":42,"c":78,"d":5,"e":85,"f":0},{"x":1,"y":7,"a":45,"b":52,"c":77,"d":5,"e":85,"f":0},{"x":2,"y":7,"a":49,"b":52,"c":76,"d":5,"e":88,"f":0},{"x":3,"y":7,"a":50,"b":52,"c":74,"d":5,"e":88,"f":0},{"x":4,"y":7,"a":51,"b":54,"c":73,"d":5,"e":88,"f":0},{"x":5,"y":7,"a":52,"b":54,"c":72,"d":2,"e":87,"f":0},{"x":6,"y":7,"a":52,"b":54,"c":70,"d":2,"e":88,"f":0},{"x":7,"y":7,"a":53,"b":33,"c":66,"d":2,"e":88,"f":0},{"x":8,"y":7,"a":54,"b":29,"c":60,"d":2,"e":88,"f":0},{"x":9,"y":7,"a":36,"b":24,"c":51,"d":2,"e":88,"f":0},{"x":10,"y":7,"a":30,"b":18,"c":39,"d":2,"e":52,"f":0},{"x":11,"y":7,"a":27,"b":0,"c":27,"d":2,"e":32,"f":0},{"x":12,"y":7,"b":0,"c":18,"d":2,"e":22,"f":0},
{"x":-12,"y":8},{"x":-11,"y":8},{"x":-10,"y":8},{"x":-9,"y":8},{"x":-8,"y":8},{"x":-7,"y":8},{"x":-6,"y":8},{"x":-5,"y":8},{"x":-4,"y":8,"a":41,"b":42,"c":84,"d":5,"e":85,"f":0},{"x":-3,"y":8,"a":41,"b":42,"c":83,"d":5,"e":85,"f":0},{"x":-2,"y":8,"a":41,"b":42,"c":82,"d":5,"e":85,"f":0},{"x":-1,"y":8,"m":1,"a":45,"b":42,"c":81,"d":5,"e":85,"f":0},{"x":0,"y":8,"a":45,"b":42,"c":80,"d":5,"e":85,"f":0},{"x":1,"y":8,"a":45,"b":52,"c":84,"d":5,"e":85,"f":0},{"x":2,"y":8,"a":48,"b":52,"c":84,"d":5,"e":88,"f":0},{"x":3,"y":8,"a":50,"b":52,"c":82,"d":5,"e":88,"f":0},{"x":4,"y":8,"a":51,"b":54,"c":80,"d":5,"e":88,"f":0},{"x":5,"y":8,"a":52,"b":54,"c":78,"d":2,"e":88,"f":0},{"x":6,"y":8,"a":52,"b":54,"c":76,"d":2,"e":88,"f":0},{"x":7,"y":8,"a":53,"b":54,"c":72,"d":2,"e":88,"f":0},{"x":8,"y":8,"a":54,"b":54,"c":68,"d":2,"e":88,"f":0},{"x":9,"y":8,"a":55,"b":34,"c":62,"d":2,"e":88,"f":0},{"x":10,"y":8,"a":36,"b":27,"c":51,"d":2,"e":62,"f":0},{"x":11,"y":8,"a":30,"b":23,"c":39,"d":2,"e":42,"f":0},{"x":12,"y":8,"b":15,"c":27,"d":2,"e":22,"f":0},
{"x":-12,"y":9},{"x":-11,"y":9},{"x":-10,"y":9},{"x":-9,"y":9},{"x":-8,"y":9},{"x":-7,"y":9},{"x":-6,"y":9},{"x":-5,"y":9},{"x":-4,"y":9},{"x":-3,"y":9,"a":41,"b":42,"c":84,"d":2,"e":90,"f":0},{"x":-2,"y":9,"a":41,"b":42,"c":83,"d":2,"e":90,"f":0},{"x":-1,"y":9,"a":41,"b":42,"c":82,"d":2,"e":90,"f":0},{"x":0,"y":9,"m":1,"a":45,"b":42,"c":84,"d":2,"e":90,"f":0},{"x":1,"y":9,"a":45,"b":43,"c":86,"d":2,"e":90,"f":0},{"x":2,"y":9,"a":48,"b":43,"c":86,"d":2,"e":90,"f":0},{"x":3,"y":9,"a":48,"b":43,"c":85,"d":2,"e":90,"f":0},{"x":4,"y":9,"a":51,"b":54,"c":84,"d":2,"e":90,"f":0},{"x":5,"y":9,"a":52,"b":54,"c":83,"d":2,"e":90,"f":0},{"x":6,"y":9,"a":52,"b":54,"c":82,"d":2,"e":90,"f":0},{"x":7,"y":9,"a":53,"b":54,"c":78,"d":2,"e":90,"f":0},{"x":8,"y":9,"a":54,"b":54,"c":74,"d":2,"e":90,"f":0},{"x":9,"y":9,"a":55,"b":57,"c":68,"d":2,"e":90,"f":0},{"x":10,"y":9,"a":50,"b":57,"c":62,"d":2,"e":72,"f":0},{"x":11,"y":9,"a":36,"b":36,"c":52,"d":2,"e":55,"f":0},{"x":12,"y":9,"b":29,"c":39,"d":2,"e":38,"f":0},
{"x":-12,"y":10},{"x":-11,"y":10},{"x":-10,"y":10},{"x":-9,"y":10},{"x":-8,"y":10},{"x":-7,"y":10},{"x":-6,"y":10},{"x":-5,"y":10},{"x":-4,"y":10},{"x":-3,"y":10},{"x":-2,"y":10,"a":41,"b":42,"c":84,"d":2,"e":90,"f":0},{"x":-1,"y":10,"a":41,"b":42,"c":86,"d":2,"e":90,"f":0},{"x":0,"y":10,"a":41,"b":42,"c":88,"d":2,"e":90,"f":0},{"x":1,"y":10,"m":1,"a":45,"b":43,"c":90,"d":2,"e":94,"f":0},{"x":2,"y":10,"a":48,"b":43,"c":90,"d":2,"e":94,"f":0},{"x":3,"y":10,"a":48,"b":43,"c":90,"d":2,"e":94,"f":0},{"x":4,"y":10,"a":48,"b":43,"c":90,"d":2,"e":94,"f":0},{"x":5,"y":10,"a":52,"b":43,"c":90,"d":2,"e":94,"f":0},{"x":6,"y":10,"a":52,"b":54,"c":88,"d":2,"e":94,"f":0},{"x":7,"y":10,"a":53,"b":54,"c":84,"d":2,"e":94,"f":0},{"x":8,"y":10,"a":54,"b":54,"c":80,"d":2,"e":94,"f":0},{"x":9,"y":10,"a":55,"b":57,"c":76,"d":2,"e":94,"f":0},{"x":10,"y":10,"a":56,"b":57,"c":70,"d":2,"e":82,"f":0},{"x":11,"y":10,"a":44,"b":57,"c":64,"d":2,"e":65,"f":0},{"x":12,"y":10,"b":40,"c":60,"d":2,"e":55,"f":0},
{"x":-12,"y":11},{"x":-11,"y":11},{"x":-10,"y":11},{"x":-9,"y":11},{"x":-8,"y":11},{"x":-7,"y":11},{"x":-6,"y":11},{"x":-5,"y":11},{"x":-4,"y":11},{"x":-3,"y":11},{"x":-2,"y":11},{"x":-1,"y":11,"a":41,"b":42,"c":88,"d":2,"e":90,"f":0},{"x":0,"y":11,"a":41,"b":42,"c":90,"d":2,"e":90,"f":0},{"x":1,"y":11,"a":41,"b":43,"c":90,"d":2,"e":94,"f":0},{"x":2,"y":11,"m":1,"a":48,"b":43,"c":94,"d":2,"e":94,"f":0},{"x":3,"y":11,"a":48,"b":43,"c":94,"d":2,"e":94,"f":0},{"x":4,"y":11,"a":48,"b":43,"c":94,"d":2,"e":94,"f":0},{"x":5,"y":11,"a":48,"b":43,"c":94,"d":2,"e":94,"f":0},{"x":6,"y":11,"a":52,"b":43,"c":94,"d":2,"e":94,"f":0},{"x":7,"y":11,"a":53,"b":54,"c":94,"d":2,"e":94,"f":0},{"x":8,"y":11,"a":54,"b":55,"c":94,"d":2,"e":94,"f":0},{"x":9,"y":11,"a":60,"b":57,"c":90,"d":2,"e":94,"f":0},{"x":10,"y":11,"a":60,"b":57,"c":84,"d":2,"e":85,"f":0},{"x":11,"y":11,"a":60,"b":60,"c":75,"d":2,"e":72,"f":0},{"x":12,"y":11,"b":60,"c":70,"d":2,"e":65,"f":0},
{"x":-12,"y":12},{"x":-11,"y":12},{"x":-10,"y":12},{"x":-9,"y":12},{"x":-8,"y":12},{"x":-7,"y":12},{"x":-6,"y":12},{"x":-5,"y":12},{"x":-4,"y":12},{"x":-3,"y":12},{"x":-2,"y":12},{"x":-1,"y":12},{"x":0,"y":12,"a":40,"b":42,"c":88,"d":2,"e":90,"f":0},{"x":1,"y":12,"a":41,"b":43,"c":90,"d":2,"e":94,"f":0},{"x":2,"y":12,"a":41,"b":43,"c":94,"d":2,"e":94,"f":0},{"x":3,"y":12,"m":1,"a":48,"b":43,"c":94,"d":2,"e":94,"f":0},{"x":4,"y":12,"a":48,"b":43,"c":94,"d":2,"e":94,"f":0},{"x":5,"y":12,"a":48,"b":43,"c":94,"d":2,"e":94,"f":0},{"x":6,"y":12,"a":48,"b":43,"c":94,"d":2,"e":94,"f":0},{"x":7,"y":12,"a":53,"b":43,"c":94,"d":2,"e":94,"f":0},{"x":8,"y":12,"a":54,"b":56,"c":94,"d":2,"e":94,"f":0},{"x":9,"y":12,"a":60,"b":57,"c":94,"d":2,"e":94,"f":0},{"x":10,"y":12,"a":60,"b":57,"c":90,"d":2,"e":85,"f":0},{"x":11,"y":12,"a":60,"b":60,"c":84,"d":2,"e":80,"f":0},{"x":12,"y":12,"b":60,"c":78,"d":2,"e":72,"f":0}],
"a1":[{"s":"APC_total","t":0,"c":100},{"s":"APC_total","t":3000,"c":100},{"s":"S_total","t":0,"c":200},{"s":"S_total","t":100,"c":200},{"s":"S_total","t":250,"c":197},{"s":"S_total","t":500,"c":183},{"s":"S_total","t":750,"c":160},{"s":"S_total","t":1000,"c":125},{"s":"S_total","t":1170,"c":100},{"s":"S_total","t":1500,"c":52},{"s":"S_total","t":1750,"c":30},{"s":"S_total","t":2000,"c":15},{"s":"S_total","t":2500,"c":3},{"s":"S_total","t":3000,"c":0}],
"a2":[{"s":"APC_total","t":0,"c":100},{"s":"APC_total","t":3000,"c":100},{"s":"S_total","t":0,"c":200},{"s":"S_total","t":100,"c":199},{"s":"S_total","t":200,"c":195},{"s":"S_total","t":300,"c":185},{"s":"S_total","t":400,"c":170},{"s":"S_total","t":500,"c":148},{"s":"S_total","t":600,"c":118},{"s":"S_total","t":650,"c":100},{"s":"S_total","t":700,"c":85},{"s":"S_total","t":800,"c":55},{"s":"S_total","t":900,"c":33},{"s":"S_total","t":1000,"c":18},{"s":"S_total","t":1100,"c":9},{"s":"S_total","t":1200,"c":5},{"s":"S_total","t":1500,"c":1},{"s":"S_total","t":2000,"c":0},{"s":"S_total","t":3000,"c":0}],
"salone":[{"s":"APC_free","t":0,"c":100},{"s":"APC_free","t":20,"c":10},{"s":"APC_free","t":50,"c":3},{"s":"APC_free","t":400,"c":6},{"s":"APC_free","t":500,"c":10},{"s":"APC_free","t":600,"c":20},{"s":"APC_free","t":700,"c":35},{"s":"APC_free","t":800,"c":52},{"s":"APC_free","t":900,"c":68},{"s":"APC_free","t":1000,"c":80},{"s":"APC_free","t":1100,"c":88},{"s":"APC_free","t":1200,"c":93},{"s":"APC_free","t":1400,"c":98},{"s":"APC_free","t":1600,"c":100},{"s":"APC_free","t":3000,"c":100},
{"s":"S_total","t":0,"c":200},{"s":"S_total","t":100,"c":199},{"s":"S_total","t":200,"c":193},{"s":"S_total","t":300,"c":178},{"s":"S_total","t":400,"c":155},{"s":"S_total","t":500,"c":125},{"s":"S_total","t":600,"c":97},{"s":"S_total","t":700,"c":72},{"s":"S_total","t":800,"c":50},{"s":"S_total","t":900,"c":32},{"s":"S_total","t":1000,"c":20},{"s":"S_total","t":1100,"c":12},{"s":"S_total","t":1200,"c":7},{"s":"S_total","t":1400,"c":2},{"s":"S_total","t":1600,"c":0},{"s":"S_total","t":3000,"c":0},
{"s":"APC_S-bound","t":0,"c":0},{"s":"APC_S-bound","t":20,"c":90},{"s":"APC_S-bound","t":50,"c":97},{"s":"APC_S-bound","t":300,"c":96},{"s":"APC_S-bound","t":500,"c":90},{"s":"APC_S-bound","t":600,"c":80},{"s":"APC_S-bound","t":700,"c":65},{"s":"APC_S-bound","t":800,"c":48},{"s":"APC_S-bound","t":900,"c":32},{"s":"APC_S-bound","t":1000,"c":20},{"s":"APC_S-bound","t":1200,"c":7},{"s":"APC_S-bound","t":1500,"c":1},{"s":"APC_S-bound","t":2000,"c":0},{"s":"APC_S-bound","t":3000,"c":0}],
"band":[{"s":"APC_free","t":0,"c":2},{"s":"APC_free","t":1000,"c":1},{"s":"APC_free","t":1200,"c":4},{"s":"APC_free","t":1300,"c":8},{"s":"APC_free","t":1400,"c":17},{"s":"APC_free","t":1500,"c":32},{"s":"APC_free","t":1600,"c":52},{"s":"APC_free","t":1700,"c":72},{"s":"APC_free","t":1800,"c":87},{"s":"APC_free","t":1900,"c":94},{"s":"APC_free","t":2000,"c":97},{"s":"APC_free","t":2200,"c":99},{"s":"APC_free","t":3000,"c":100},
{"s":"C_total","t":0,"c":200},{"s":"C_total","t":100,"c":197},{"s":"C_total","t":200,"c":190},{"s":"C_total","t":300,"c":180},{"s":"C_total","t":450,"c":163},{"s":"C_total","t":600,"c":132},{"s":"C_total","t":750,"c":100},{"s":"C_total","t":900,"c":70},{"s":"C_total","t":1100,"c":38},{"s":"C_total","t":1300,"c":13},{"s":"C_total","t":1500,"c":3},{"s":"C_total","t":1800,"c":0},{"s":"C_total","t":3000,"c":0},
{"s":"S_total","t":0,"c":200},{"s":"S_total","t":400,"c":199},{"s":"S_total","t":800,"c":195},{"s":"S_total","t":1000,"c":187},{"s":"S_total","t":1100,"c":178},{"s":"S_total","t":1200,"c":163},{"s":"S_total","t":1300,"c":142},{"s":"S_total","t":1400,"c":115},{"s":"S_total","t":1500,"c":85},{"s":"S_total","t":1600,"c":55},{"s":"S_total","t":1700,"c":32},{"s":"S_total","t":1800,"c":17},{"s":"S_total","t":1900,"c":8},{"s":"S_total","t":2000,"c":4},{"s":"S_total","t":2200,"c":1},{"s":"S_total","t":3000,"c":0},
{"s":"APC_C-bound","t":0,"c":0},{"s":"APC_C-bound","t":40,"c":60},{"s":"APC_C-bound","t":130,"c":83},{"s":"APC_C-bound","t":300,"c":80},{"s":"APC_C-bound","t":450,"c":75},{"s":"APC_C-bound","t":650,"c":65},{"s":"APC_C-bound","t":850,"c":50},{"s":"APC_C-bound","t":1050,"c":33},{"s":"APC_C-bound","t":1250,"c":18},{"s":"APC_C-bound","t":1450,"c":6},{"s":"APC_C-bound","t":1700,"c":1},{"s":"APC_C-bound","t":2000,"c":0},{"s":"APC_C-bound","t":3000,"c":0},
{"s":"APC_S-bound","t":0,"c":48},{"s":"APC_S-bound","t":50,"c":30},{"s":"APC_S-bound","t":100,"c":21},{"s":"APC_S-bound","t":174,"c":17},{"s":"APC_S-bound","t":300,"c":19},{"s":"APC_S-bound","t":451,"c":25},{"s":"APC_S-bound","t":650,"c":35},{"s":"APC_S-bound","t":850,"c":48},{"s":"APC_S-bound","t":1050,"c":62},{"s":"APC_S-bound","t":1250,"c":76},{"s":"APC_S-bound","t":1360,"c":80},{"s":"APC_S-bound","t":1450,"c":76},{"s":"APC_S-bound","t":1550,"c":60},{"s":"APC_S-bound","t":1650,"c":36},{"s":"APC_S-bound","t":1750,"c":16},{"s":"APC_S-bound","t":1850,"c":8},{"s":"APC_S-bound","t":2000,"c":3},{"s":"APC_S-bound","t":2300,"c":0},{"s":"APC_S-bound","t":3000,"c":0}],
"cand":[{"s":"APC_free","t":0,"c":0},{"s":"APC_free","t":500,"c":0},{"s":"APC_free","t":650,"c":10},{"s":"APC_free","t":750,"c":30},{"s":"APC_free","t":847,"c":57},{"s":"APC_free","t":950,"c":75},{"s":"APC_free","t":1050,"c":87},{"s":"APC_free","t":1163,"c":93},{"s":"APC_free","t":1300,"c":97},{"s":"APC_free","t":1480,"c":99},{"s":"APC_free","t":1800,"c":100},{"s":"APC_free","t":3000,"c":100},
{"s":"C_total","t":0,"c":200},{"s":"C_total","t":50,"c":160},{"s":"C_total","t":100,"c":120},{"s":"C_total","t":150,"c":85},{"s":"C_total","t":214,"c":55},{"s":"C_total","t":300,"c":25},{"s":"C_total","t":372,"c":10},{"s":"C_total","t":500,"c":2},{"s":"C_total","t":700,"c":0},{"s":"C_total","t":3000,"c":0},
{"s":"S_total","t":0,"c":200},{"s":"S_total","t":150,"c":199},{"s":"S_total","t":293,"c":196},{"s":"S_total","t":450,"c":176},{"s":"S_total","t":609,"c":143},{"s":"S_total","t":730,"c":105},{"s":"S_total","t":847,"c":65},{"s":"S_total","t":950,"c":40},{"s":"S_total","t":1050,"c":24},{"s":"S_total","t":1163,"c":12},{"s":"S_total","t":1300,"c":4},{"s":"S_total","t":1500,"c":1},{"s":"S_total","t":3000,"c":0},
{"s":"APC_C-bound","t":0,"c":50},{"s":"APC_C-bound","t":100,"c":36},{"s":"APC_C-bound","t":200,"c":24},{"s":"APC_C-bound","t":293,"c":15},{"s":"APC_C-bound","t":400,"c":7},{"s":"APC_C-bound","t":500,"c":3},{"s":"APC_C-bound","t":800,"c":0},{"s":"APC_C-bound","t":3000,"c":0},
{"s":"APC_S-bound","t":0,"c":50},{"s":"APC_S-bound","t":100,"c":68},{"s":"APC_S-bound","t":200,"c":82},{"s":"APC_S-bound","t":372,"c":95},{"s":"APC_S-bound","t":470,"c":95},{"s":"APC_S-bound","t":570,"c":92},{"s":"APC_S-bound","t":680,"c":78},{"s":"APC_S-bound","t":800,"c":55},{"s":"APC_S-bound","t":926,"c":30},{"s":"APC_S-bound","t":1050,"c":20},{"s":"APC_S-bound","t":1163,"c":13},{"s":"APC_S-bound","t":1300,"c":5},{"s":"APC_S-bound","t":1500,"c":1},{"s":"APC_S-bound","t":3000,"c":0}]},
"bounds":"flush","spacing":485,"resolve":{"scale":{"color":"independent","strokeDash":"independent"}},
"vconcat":[
{"bounds":"flush","spacing":198,"resolve":{"scale":{"color":"independent","strokeDash":"independent"}},"hconcat":[
 {"bounds":"flush","spacing":91,"resolve":{"scale":{"strokeDash":"independent"}},"vconcat":[
  {"width":1,"height":1,"data":{"values":[{}]},"layer":[
   {"mark":{"type":"text","align":"left","baseline":"middle","font":"Liberation Sans","fontSize":17,"fontWeight":"bold","text":"A"},"encoding":{"x":{"datum":-30,"type":"quantitative","scale":{"domain":[0,1],"range":[0,1]},"axis":null},"y":{"datum":-4,"type":"quantitative","scale":{"domain":[0,1],"range":[0,1]},"axis":null}}},
   {"mark":{"type":"text","align":"left","baseline":"middle","font":"Liberation Sans","fontSize":17,"fontWeight":"bold","text":"One-substrate system"},"encoding":{"x":{"datum":6,"type":"quantitative"},"y":{"datum":-4,"type":"quantitative"}}},
   {"mark":{"type":"rule","stroke":"black","strokeWidth":2},"encoding":{"x":{"datum":7,"type":"quantitative"},"x2":{"datum":183},"y":{"datum":7,"type":"quantitative"}}}]},
  {"bounds":"flush","spacing":17,"resolve":{"scale":{"strokeDash":"independent"}},"vconcat":[
   {"width":126,"height":96,"view":{"stroke":"#666","strokeWidth":1.5},"data":{"name":"a1"},"mark":{"type":"line","stroke":"black","strokeWidth":1.4},"encoding":{"x":{"field":"t","type":"quantitative","scale":{"domain":[0,3000],"nice":false},"axis":{"values":[0,500,1000,1500,2000,2500,3000],"format":"d","title":"Time (s)","titleFontSize":5.5,"titleFontWeight":"bold","titlePadding":1,"labelFontSize":4.5,"tickSize":-2,"labelPadding":1}},"y":{"field":"c","type":"quantitative","scale":{"domain":[-8,250],"nice":false},"axis":{"values":[0,50,100,150,200,250],"title":"Concentration (nM)","titleFontSize":5.5,"titleFontWeight":"bold","titlePadding":1,"labelFontSize":4.5,"tickSize":-2,"labelPadding":1}},"strokeDash":{"field":"s","type":"nominal","scale":{"domain":["APC_total","S_total"],"range":[[4,3],[1,0]]},"legend":{"orient":"none","legendX":64,"legendY":2,"fillColor":"white","strokeColor":"black","padding":3,"labelFontSize":6,"symbolType":"stroke","symbolStrokeColor":"black","symbolStrokeWidth":1.4,"symbolSize":120,"rowPadding":1,"labelOffset":5}}}},
   {"width":126,"height":97,"view":{"stroke":"#666","strokeWidth":1.5},"data":{"name":"a2"},"mark":{"type":"line","stroke":"black","strokeWidth":1.4},"encoding":{"x":{"field":"t","type":"quantitative","scale":{"domain":[0,3000],"nice":false},"axis":{"values":[0,500,1000,1500,2000,2500,3000],"format":"d","title":"Time (s)","titleFontSize":5.5,"titleFontWeight":"bold","titlePadding":1,"labelFontSize":4.5,"tickSize":-2,"labelPadding":1}},"y":{"field":"c","type":"quantitative","scale":{"domain":[-8,250],"nice":false},"axis":{"values":[0,50,100,150,200,250],"title":"Concentration (nM)","titleFontSize":5.5,"titleFontWeight":"bold","titlePadding":1,"labelFontSize":4.5,"tickSize":-2,"labelPadding":1}},"strokeDash":{"field":"s","type":"nominal","scale":{"domain":["APC_total","S_total"],"range":[[4,3],[1,0]]},"legend":null}}}]}]},
 {"bounds":"flush","spacing":249,"resolve":{"scale":{"color":"independent"}},"hconcat":[
  {"bounds":"flush","spacing":99,"vconcat":[
   {"width":1,"height":1,"data":{"values":[{}]},"layer":[
    {"mark":{"type":"circle","size":36,"fill":"#888","stroke":"#666","opacity":1},"encoding":{"x":{"datum":4,"type":"quantitative","scale":{"domain":[0,1],"range":[0,1]},"axis":null},"y":{"datum":91,"type":"quantitative","scale":{"domain":[0,1],"range":[0,1]},"axis":null}}},
    {"mark":{"type":"text","align":"left","baseline":"middle","font":"Liberation Sans","fontSize":12,"fontWeight":"bold","text":"T95 > 200 sec & Td < 600 sec"},"encoding":{"x":{"datum":9,"type":"quantitative"},"y":{"datum":91,"type":"quantitative"}}}]},
   {"width":181,"height":175,"view":{"stroke":"#555","strokeWidth":1.5},"resolve":{"axis":{"x":"independent","y":"independent"}},"layer":[
    {"data":{"name":"grid"},"mark":{"type":"circle","size":31,"stroke":"#666","strokeWidth":0.6,"opacity":1},"encoding":{"x":{"field":"x","type":"quantitative","scale":{"domain":[-16,16],"nice":false},"axis":{"title":"kc (1/sec)","titlePadding":5,"values":[-16,-14.8,-13.6,-12.9,-12.4,-12,-10.8,-9.6,-8.9,-8.4,-8,-6.8,-5.6,-4.9,-4.4,-4,-2.8,-1.6,-0.9,-0.4,0,1.2,2.4,3.1,3.6,4,5.2,6.4,7.1,7.6,8,9.2,10.4,11.1,11.6,12,13.2,14.4,15.1,15.6,16],"tickSize":-3,"tickWidth":{"condition":{"test":"datum.value%4==0","value":1.2},"value":0.5},"labelExpr":"datum.value%4==0?'10'+['⁻⁴','⁻³','⁻²','⁻¹','⁰','¹','²','³','⁴'][datum.value/4+4]:''"}},"y":{"field":"y","type":"quantitative","scale":{"domain":[-16,16],"nice":false},"axis":{"title":"kd (1/sec)","titlePadding":3,"values":[-16,-14.8,-13.6,-12.9,-12.4,-12,-10.8,-9.6,-8.9,-8.4,-8,-6.8,-5.6,-4.9,-4.4,-4,-2.8,-1.6,-0.9,-0.4,0,1.2,2.4,3.1,3.6,4,5.2,6.4,7.1,7.6,8,9.2,10.4,11.1,11.6,12,13.2,14.4,15.1,15.6,16],"tickSize":-3,"tickWidth":{"condition":{"test":"datum.value%4==0","value":1.2},"value":0.5},"labelExpr":"datum.value%4==0?'10'+['⁻⁴','⁻³','⁻²','⁻¹','⁰','¹','²','³','⁴'][datum.value/4+4]:''"}},"fill":{"condition":{"test":"datum.m","value":"#888"},"value":"white"}}},
    {"data":{"values":[{"g":1,"x":-28.7,"y":10},{"g":1,"x":-8,"y":0},{"g":2,"x":-28.7,"y":-10.5},{"g":2,"x":-8,"y":-6}]},"mark":{"type":"line","stroke":"#666","strokeDash":[2,2],"strokeWidth":1},"encoding":{"x":{"field":"x","type":"quantitative","axis":null},"y":{"field":"y","type":"quantitative","axis":null},"detail":{"field":"g"}}},
    {"data":{"values":[{"x":-8,"y":0},{"x":-8,"y":-6}]},"mark":{"type":"point","shape":"square","size":20,"stroke":"black","strokeWidth":1.6,"fill":"white","fillOpacity":1,"opacity":1},"encoding":{"x":{"field":"x","type":"quantitative","axis":{"orient":"top","title":null,"labels":false,"values":[-16,-12,-8,-4,0,4,8,12,16],"tickSize":-3}},"y":{"field":"y","type":"quantitative","axis":{"orient":"right","title":null,"labels":false,"values":[-16,-12,-8,-4,0,4,8,12,16],"tickSize":-3}}}},
    {"mark":{"type":"text","align":"right","baseline":"middle","font":"Liberation Sans","fontSize":11.5,"text":"ka = 0.01/(nM sec)"},"data":{"values":[{}]},"encoding":{"x":{"datum":15.3,"type":"quantitative","axis":null},"y":{"datum":13.8,"type":"quantitative","axis":null}}}]}]},
  {"bounds":"flush","spacing":52,"resolve":{"scale":{"color":"independent"}},"vconcat":[
   {"width":181,"height":175,"view":{"stroke":"#555","strokeWidth":1.5},"title":{"text":"Relative T95 change by increasing kc","font":"Liberation Sans","fontSize":12,"fontWeight":"bold","offset":1,"color":"black"},"resolve":{"axis":{"x":"independent","y":"independent"}},"layer":[
    {"data":{"name":"grid"},"transform":[{"filter":{"field":"a","valid":true}}],"mark":{"type":"circle","size":31,"stroke":"#666","strokeWidth":0.6,"opacity":1},"encoding":{"x":{"field":"x","type":"quantitative","scale":{"domain":[-16,16],"nice":false},"axis":{"title":"kc (1/sec)","titlePadding":5,"values":[-16,-14.8,-13.6,-12.9,-12.4,-12,-10.8,-9.6,-8.9,-8.4,-8,-6.8,-5.6,-4.9,-4.4,-4,-2.8,-1.6,-0.9,-0.4,0,1.2,2.4,3.1,3.6,4,5.2,6.4,7.1,7.6,8,9.2,10.4,11.1,11.6,12,13.2,14.4,15.1,15.6,16],"tickSize":-3,"tickWidth":{"condition":{"test":"datum.value%4==0","value":1.2},"value":0.5},"labelExpr":"datum.value%4==0?'10'+['⁻⁴','⁻³','⁻²','⁻¹','⁰','¹','²','³','⁴'][datum.value/4+4]:''"}},"y":{"field":"y","type":"quantitative","scale":{"domain":[-16,16],"nice":false},"axis":{"title":"kd (1/sec)","titlePadding":3,"values":[-16,-14.8,-13.6,-12.9,-12.4,-12,-10.8,-9.6,-8.9,-8.4,-8,-6.8,-5.6,-4.9,-4.4,-4,-2.8,-1.6,-0.9,-0.4,0,1.2,2.4,3.1,3.6,4,5.2,6.4,7.1,7.6,8,9.2,10.4,11.1,11.6,12,13.2,14.4,15.1,15.6,16],"tickSize":-3,"tickWidth":{"condition":{"test":"datum.value%4==0","value":1.2},"value":0.5},"labelExpr":"datum.value%4==0?'10'+['⁻⁴','⁻³','⁻²','⁻¹','⁰','¹','²','³','⁴'][datum.value/4+4]:''"}},"color":{"field":"a","type":"quantitative","scale":{"domain":[0,6,12,18,24,30,36,42,48,54,60],"range":["#fffff0","#fbfaa8","#f6f06a","#d6ea70","#a2e47a","#5acb78","#2f9a78","#217c6c","#1d5c78","#12306f","#0a1a55"]},"legend":{"values":[0,6,12,18,24,30,36,42,48,54,60],"labelExpr":"format(datum.value/100,'.2f')"}}}},
    {"mark":{"type":"text","align":"right","baseline":"middle","font":"Liberation Sans","fontSize":11.5,"text":"ka = 0.01/(nM sec)"},"data":{"values":[{}]},"encoding":{"x":{"datum":15.5,"type":"quantitative","axis":null},"y":{"datum":14.2,"type":"quantitative","axis":null}}},
    {"data":{"values":[{"x":0,"y":0}]},"mark":{"type":"point","opacity":0},"encoding":{"x":{"field":"x","type":"quantitative","axis":{"orient":"top","title":null,"labels":false,"values":[-16,-12,-8,-4,0,4,8,12,16],"tickSize":-3}},"y":{"field":"y","type":"quantitative","axis":{"orient":"right","title":null,"labels":false,"values":[-16,-12,-8,-4,0,4,8,12,16],"tickSize":-3}}}}]},
   {"width":181,"height":175,"view":{"stroke":"#555","strokeWidth":1.5},"title":{"text":"Relative T95 change by decreasing kd","font":"Liberation Sans","fontSize":12,"fontWeight":"bold","offset":3,"color":"black"},"resolve":{"axis":{"x":"independent","y":"independent"}},"layer":[
    {"data":{"name":"grid"},"transform":[{"filter":{"field":"b","valid":true}}],"mark":{"type":"circle","size":31,"stroke":"#666","strokeWidth":0.6,"opacity":1},"encoding":{"x":{"field":"x","type":"quantitative","scale":{"domain":[-16,16],"nice":false},"axis":{"title":"kc (1/sec)","titlePadding":5,"values":[-16,-14.8,-13.6,-12.9,-12.4,-12,-10.8,-9.6,-8.9,-8.4,-8,-6.8,-5.6,-4.9,-4.4,-4,-2.8,-1.6,-0.9,-0.4,0,1.2,2.4,3.1,3.6,4,5.2,6.4,7.1,7.6,8,9.2,10.4,11.1,11.6,12,13.2,14.4,15.1,15.6,16],"tickSize":-3,"tickWidth":{"condition":{"test":"datum.value%4==0","value":1.2},"value":0.5},"labelExpr":"datum.value%4==0?'10'+['⁻⁴','⁻³','⁻²','⁻¹','⁰','¹','²','³','⁴'][datum.value/4+4]:''"}},"y":{"field":"y","type":"quantitative","scale":{"domain":[-16,16],"nice":false},"axis":{"title":"kd (1/sec)","titlePadding":3,"values":[-16,-14.8,-13.6,-12.9,-12.4,-12,-10.8,-9.6,-8.9,-8.4,-8,-6.8,-5.6,-4.9,-4.4,-4,-2.8,-1.6,-0.9,-0.4,0,1.2,2.4,3.1,3.6,4,5.2,6.4,7.1,7.6,8,9.2,10.4,11.1,11.6,12,13.2,14.4,15.1,15.6,16],"tickSize":-3,"tickWidth":{"condition":{"test":"datum.value%4==0","value":1.2},"value":0.5},"labelExpr":"datum.value%4==0?'10'+['⁻⁴','⁻³','⁻²','⁻¹','⁰','¹','²','³','⁴'][datum.value/4+4]:''"}},"color":{"field":"b","type":"quantitative","scale":{"domain":[0,6,12,18,24,30,36,42,48,54,60],"range":["#fffff0","#fbfaa8","#f6f06a","#d6ea70","#a2e47a","#5acb78","#2f9a78","#217c6c","#1d5c78","#12306f","#0a1a55"]},"legend":{"values":[0,6,12,18,24,30,36,42,48,54,60],"labelExpr":"format(datum.value/100,'.2f')"}}}},
    {"mark":{"type":"text","align":"right","baseline":"middle","font":"Liberation Sans","fontSize":11.5,"text":"ka = 0.01/(nM sec)"},"data":{"values":[{}]},"encoding":{"x":{"datum":15.5,"type":"quantitative","axis":null},"y":{"datum":14.1,"type":"quantitative","axis":null}}},
    {"data":{"values":[{"x":0,"y":0}]},"mark":{"type":"point","opacity":0},"encoding":{"x":{"field":"x","type":"quantitative","axis":{"orient":"top","title":null,"labels":false,"values":[-16,-12,-8,-4,0,4,8,12,16],"tickSize":-3}},"y":{"field":"y","type":"quantitative","axis":{"orient":"right","title":null,"labels":false,"values":[-16,-12,-8,-4,0,4,8,12,16],"tickSize":-3}}}}]}]}]}]},
{"bounds":"flush","spacing":272,"resolve":{"scale":{"color":"independent"}},"vconcat":[
 {"bounds":"flush","spacing":17,"resolve":{"scale":{"color":"independent"}},"hconcat":[
  {"width":1,"height":1,"data":{"values":[{}]},"layer":[
   {"mark":{"type":"text","align":"left","baseline":"middle","font":"Liberation Sans","fontSize":17,"fontWeight":"bold","text":"B"},"encoding":{"x":{"datum":-30,"type":"quantitative","scale":{"domain":[0,1],"range":[0,1]},"axis":null},"y":{"datum":-37,"type":"quantitative","scale":{"domain":[0,1],"range":[0,1]},"axis":null}}},
   {"mark":{"type":"text","align":"left","baseline":"middle","font":"Liberation Sans","fontSize":17,"fontWeight":"bold","text":"Two-substrate: C has higher affinity for APC/C than S"},"encoding":{"x":{"datum":2,"type":"quantitative"},"y":{"datum":-37,"type":"quantitative"}}},
   {"mark":{"type":"rule","stroke":"black","strokeWidth":2},"encoding":{"x":{"datum":3,"type":"quantitative"},"x2":{"datum":436},"y":{"datum":-27,"type":"quantitative"}}}]},
  {"bounds":"flush","spacing":259,"resolve":{"scale":{"color":"independent"}},"hconcat":[
   {"bounds":"flush","spacing":7,"resolve":{"scale":{"color":"independent"}},"vconcat":[
    {"width":181,"height":1,"data":{"values":[{}]},"mark":{"type":"text","font":"Liberation Sans","fontSize":12,"fontWeight":"bold","dy":-5,"text":"Differences in degradation onset of C and S"},"encoding":{}},
    {"width":181,"height":175,"view":{"stroke":"#555","strokeWidth":1.5},"resolve":{"axis":{"x":"independent","y":"independent"}},"layer":[
     {"data":{"name":"grid"},"transform":[{"filter":{"field":"c","valid":true}}],"mark":{"type":"circle","size":31,"stroke":"#666","strokeWidth":0.6,"opacity":1},"encoding":{"x":{"field":"x","type":"quantitative","scale":{"domain":[-16,16],"nice":false},"axis":{"title":"kc,S (1/sec)","titlePadding":5,"values":[-16,-14.8,-13.6,-12.9,-12.4,-12,-10.8,-9.6,-8.9,-8.4,-8,-6.8,-5.6,-4.9,-4.4,-4,-2.8,-1.6,-0.9,-0.4,0,1.2,2.4,3.1,3.6,4,5.2,6.4,7.1,7.6,8,9.2,10.4,11.1,11.6,12,13.2,14.4,15.1,15.6,16],"tickSize":-3,"tickWidth":{"condition":{"test":"datum.value%4==0","value":1.2},"value":0.5},"labelExpr":"datum.value%4==0?'10'+['⁻⁴','⁻³','⁻²','⁻¹','⁰','¹','²','³','⁴'][datum.value/4+4]:''"}},"y":{"field":"y","type":"quantitative","scale":{"domain":[-16,16],"nice":false},"axis":{"title":"kd,S (1/sec)","titlePadding":3,"values":[-16,-14.8,-13.6,-12.9,-12.4,-12,-10.8,-9.6,-8.9,-8.4,-8,-6.8,-5.6,-4.9,-4.4,-4,-2.8,-1.6,-0.9,-0.4,0,1.2,2.4,3.1,3.6,4,5.2,6.4,7.1,7.6,8,9.2,10.4,11.1,11.6,12,13.2,14.4,15.1,15.6,16],"tickSize":-3,"tickWidth":{"condition":{"test":"datum.value%4==0","value":1.2},"value":0.5},"labelExpr":"datum.value%4==0?'10'+['⁻⁴','⁻³','⁻²','⁻¹','⁰','¹','²','³','⁴'][datum.value/4+4]:''"}},"color":{"field":"c","type":"quantitative","scale":{"domain":[0,10,20,30,40,50,60,70,80,90,100],"range":["#ffffe8","#ffffa0","#ffff30","#ffd820","#f0a030","#ee6060","#ff1a10","#d01010","#901010","#4a0808","#100000"]},"legend":{"values":[0,10,20,30,40,50,60,70,80,90,100],"labelExpr":"format(datum.value/100,'.1f')"}}}},
     {"mark":{"type":"text","align":"right","baseline":"middle","font":"Liberation Sans","fontSize":11.5,"text":"ka = 0.01/(nM sec)"},"data":{"values":[{}]},"encoding":{"x":{"datum":15.4,"type":"quantitative","axis":null},"y":{"datum":14,"type":"quantitative","axis":null}}},
     {"data":{"values":[{"x":0,"y":0}]},"mark":{"type":"point","opacity":0},"encoding":{"x":{"field":"x","type":"quantitative","axis":{"orient":"top","title":null,"labels":false,"values":[-16,-12,-8,-4,0,4,8,12,16],"tickSize":-3}},"y":{"field":"y","type":"quantitative","axis":{"orient":"right","title":null,"labels":false,"values":[-16,-12,-8,-4,0,4,8,12,16],"tickSize":-3}}}}]}]},
   {"bounds":"flush","spacing":170,"resolve":{"scale":{"color":"independent"}},"hconcat":[
    {"bounds":"flush","spacing":0,"resolve":{"scale":{"color":"independent"}},"vconcat":[
     {"width":126,"height":97,"view":{"stroke":"#222","strokeWidth":1.2},"layer":[{"data":{"name":"salone"},"mark":{"type":"line","strokeWidth":1.5},"encoding":{"x":{"field":"t","type":"quantitative","scale":{"domain":[0,3000],"nice":false},"axis":{"values":[0,500,1000,1500,2000,2500,3000],"labels":false,"title":null,"tickSize":-2}},"y":{"field":"c","type":"quantitative","scale":{"domain":[-10,250],"nice":false},"axis":{"values":[0,50,100,150,200,250],"title":"Concentration (nM)","titleFontSize":5.5,"titleFontWeight":"bold","titlePadding":1,"labelFontSize":4.5,"tickSize":-2,"labelPadding":1}},"color":{"field":"s","type":"nominal","scale":{"domain":["APC_free","C_total","S_total","APC_C-bound","APC_S-bound"],"range":["#c060dc","#888888","#e5605a","#2b72b4","#eda825"]},"legend":null}}},{"data":{"values":[{}]},"mark":{"type":"text","font":"Liberation Sans","fontSize":13,"text":"S alone"},"encoding":{"x":{"datum":1170,"type":"quantitative"},"y":{"datum":218,"type":"quantitative"}}}]},
     {"width":126,"height":98,"view":{"stroke":"#222","strokeWidth":1.2},"layer":[{"data":{"name":"band"},"mark":{"type":"line","strokeWidth":1.5},"encoding":{"x":{"field":"t","type":"quantitative","scale":{"domain":[0,3000],"nice":false},"axis":{"values":[0,500,1000,1500,2000,2500,3000],"format":"d","title":"Time (s)","titleFontSize":5.5,"titleFontWeight":"bold","titlePadding":1,"labelFontSize":4.5,"tickSize":-2,"labelPadding":1}},"y":{"field":"c","type":"quantitative","scale":{"domain":[-10,250],"nice":false},"axis":{"values":[0,50,100,150,200],"title":"Concentration (nM)","titleFontSize":5.5,"titleFontWeight":"bold","titlePadding":1,"labelFontSize":4.5,"tickSize":-2,"labelPadding":1}},"color":{"field":"s","type":"nominal","scale":{"domain":["APC_free","C_total","S_total","APC_C-bound","APC_S-bound"],"range":["#c060dc","#888888","#e5605a","#2b72b4","#eda825"]},"legend":{"orient":"none","legendX":67,"legendY":1,"fillColor":"white","strokeColor":"black","padding":2,"labelFontSize":5,"symbolType":"stroke","symbolStrokeWidth":1.6,"symbolSize":80,"rowPadding":0,"labelOffset":4}}}},{"data":{"values":[{}]},"mark":{"type":"text","font":"Liberation Sans","fontSize":13,"text":"S and C"},"encoding":{"x":{"datum":1024,"type":"quantitative"},"y":{"datum":219,"type":"quantitative"}}}]}]},
    {"bounds":"flush","spacing":8,"resolve":{"scale":{"color":"independent"}},"vconcat":[
     {"width":181,"height":1,"data":{"values":[{}]},"mark":{"type":"text","font":"Liberation Sans","fontSize":12,"fontWeight":"bold","dy":-5,"text":"Relative change in T95 of S by adding C"},"encoding":{}},
     {"width":181,"height":175,"view":{"stroke":"#555","strokeWidth":1.5},"resolve":{"axis":{"x":"independent","y":"independent"}},"layer":[
      {"data":{"name":"grid"},"transform":[{"filter":{"field":"d","valid":true}}],"mark":{"type":"circle","size":31,"stroke":"#666","strokeWidth":0.6,"opacity":1},"encoding":{"x":{"field":"x","type":"quantitative","scale":{"domain":[-16,16],"nice":false},"axis":{"title":"kc,S (1/sec)","titlePadding":5,"values":[-16,-14.8,-13.6,-12.9,-12.4,-12,-10.8,-9.6,-8.9,-8.4,-8,-6.8,-5.6,-4.9,-4.4,-4,-2.8,-1.6,-0.9,-0.4,0,1.2,2.4,3.1,3.6,4,5.2,6.4,7.1,7.6,8,9.2,10.4,11.1,11.6,12,13.2,14.4,15.1,15.6,16],"tickSize":-3,"tickWidth":{"condition":{"test":"datum.value%4==0","value":1.2},"value":0.5},"labelExpr":"datum.value%4==0?'10'+['⁻⁴','⁻³','⁻²','⁻¹','⁰','¹','²','³','⁴'][datum.value/4+4]:''"}},"y":{"field":"y","type":"quantitative","scale":{"domain":[-16,16],"nice":false},"axis":{"title":"kd,S (1/sec)","titlePadding":3,"values":[-16,-14.8,-13.6,-12.9,-12.4,-12,-10.8,-9.6,-8.9,-8.4,-8,-6.8,-5.6,-4.9,-4.4,-4,-2.8,-1.6,-0.9,-0.4,0,1.2,2.4,3.1,3.6,4,5.2,6.4,7.1,7.6,8,9.2,10.4,11.1,11.6,12,13.2,14.4,15.1,15.6,16],"tickSize":-3,"tickWidth":{"condition":{"test":"datum.value%4==0","value":1.2},"value":0.5},"labelExpr":"datum.value%4==0?'10'+['⁻⁴','⁻³','⁻²','⁻¹','⁰','¹','²','³','⁴'][datum.value/4+4]:''"}},"color":{"field":"d","type":"quantitative","scale":{"domain":[0,15,30,45,60,75,90,105,120],"range":["#fff5f0","#fde0d8","#f8c0b8","#e88fb0","#f05060","#d83060","#b01870","#6a1070","#300a5a"]},"legend":{"values":[0,15,30,45,60,75,90,105,120],"labelExpr":"format(datum.value/100,'.2f')"}}}},
      {"data":{"values":[{"x":-23.3,"y":-6},{"x":-8,"y":-6}]},"mark":{"type":"line","stroke":"#555","strokeDash":[2,2],"strokeWidth":1},"encoding":{"x":{"field":"x","type":"quantitative","axis":null},"y":{"field":"y","type":"quantitative","axis":null}}},
      {"data":{"values":[{"x":-8,"y":-6}]},"mark":{"type":"point","shape":"square","size":16,"stroke":"white","strokeWidth":1.6,"fillOpacity":0,"opacity":1},"encoding":{"x":{"field":"x","type":"quantitative","axis":{"orient":"top","title":null,"labels":false,"values":[-16,-12,-8,-4,0,4,8,12,16],"tickSize":-3}},"y":{"field":"y","type":"quantitative","axis":{"orient":"right","title":null,"labels":false,"values":[-16,-12,-8,-4,0,4,8,12,16],"tickSize":-3}}}},
      {"mark":{"type":"text","align":"right","baseline":"middle","font":"Liberation Sans","fontSize":11.5,"text":"ka = 0.01/(nM sec)"},"data":{"values":[{}]},"encoding":{"x":{"datum":14.3,"type":"quantitative","axis":null},"y":{"datum":14,"type":"quantitative","axis":null}}}]}]}]}]}]},
 {"bounds":"flush","spacing":17,"resolve":{"scale":{"color":"independent"}},"hconcat":[
  {"width":1,"height":1,"data":{"values":[{}]},"layer":[
   {"mark":{"type":"text","align":"left","baseline":"middle","font":"Liberation Sans","fontSize":17,"fontWeight":"bold","text":"C is catalytically better than S"},"encoding":{"x":{"datum":1,"type":"quantitative","scale":{"domain":[0,1],"range":[0,1]},"axis":null},"y":{"datum":-25,"type":"quantitative","scale":{"domain":[0,1],"range":[0,1]},"axis":null}}},
   {"mark":{"type":"rule","stroke":"black","strokeWidth":2},"encoding":{"x":{"datum":2,"type":"quantitative"},"x2":{"datum":240},"y":{"datum":-14,"type":"quantitative"}}}]},
  {"bounds":"flush","spacing":259,"resolve":{"scale":{"color":"independent"}},"hconcat":[
   {"bounds":"flush","spacing":19,"resolve":{"scale":{"color":"independent"}},"vconcat":[
    {"width":181,"height":1,"data":{"values":[{}]},"mark":{"type":"text","font":"Liberation Sans","fontSize":12,"fontWeight":"bold","dy":5,"text":"Differences in degradation onset of C and S"},"encoding":{}},
    {"width":181,"height":175,"view":{"stroke":"#555","strokeWidth":1.5},"resolve":{"axis":{"x":"independent","y":"independent"}},"layer":[
     {"data":{"name":"grid"},"transform":[{"filter":{"field":"e","valid":true}}],"mark":{"type":"circle","size":31,"stroke":"#666","strokeWidth":0.6,"opacity":1},"encoding":{"x":{"field":"x","type":"quantitative","scale":{"domain":[-16,16],"nice":false},"axis":{"title":"kc,S (1/sec)","titlePadding":0,"values":[-16,-14.8,-13.6,-12.9,-12.4,-12,-10.8,-9.6,-8.9,-8.4,-8,-6.8,-5.6,-4.9,-4.4,-4,-2.8,-1.6,-0.9,-0.4,0,1.2,2.4,3.1,3.6,4,5.2,6.4,7.1,7.6,8,9.2,10.4,11.1,11.6,12,13.2,14.4,15.1,15.6,16],"tickSize":-3,"tickWidth":{"condition":{"test":"datum.value%4==0","value":1.2},"value":0.5},"labelExpr":"datum.value%4==0?'10'+['⁻⁴','⁻³','⁻²','⁻¹','⁰','¹','²','³','⁴'][datum.value/4+4]:''"}},"y":{"field":"y","type":"quantitative","scale":{"domain":[-16,16],"nice":false},"axis":{"title":"kd,S (1/sec)","titlePadding":3,"values":[-16,-14.8,-13.6,-12.9,-12.4,-12,-10.8,-9.6,-8.9,-8.4,-8,-6.8,-5.6,-4.9,-4.4,-4,-2.8,-1.6,-0.9,-0.4,0,1.2,2.4,3.1,3.6,4,5.2,6.4,7.1,7.6,8,9.2,10.4,11.1,11.6,12,13.2,14.4,15.1,15.6,16],"tickSize":-3,"tickWidth":{"condition":{"test":"datum.value%4==0","value":1.2},"value":0.5},"labelExpr":"datum.value%4==0?'10'+['⁻⁴','⁻³','⁻²','⁻¹','⁰','¹','²','³','⁴'][datum.value/4+4]:''"}},"color":{"field":"e","type":"quantitative","scale":{"domain":[0,10,20,30,40,50,60,70,80,90,100],"range":["#ffffe8","#ffffa0","#ffff30","#ffd820","#f0a030","#ee6060","#ff1a10","#d01010","#901010","#4a0808","#100000"]},"legend":{"values":[0,10,20,30,40,50,60,70,80,90,100],"labelExpr":"format(datum.value/100,'.1f')"}}}},
     {"mark":{"type":"text","align":"right","baseline":"middle","font":"Liberation Sans","fontSize":11.5,"text":"ka = 0.01/(nM sec)"},"data":{"values":[{}]},"encoding":{"x":{"datum":15.7,"type":"quantitative","axis":null},"y":{"datum":14.2,"type":"quantitative","axis":null}}},
     {"data":{"values":[{"x":0,"y":0}]},"mark":{"type":"point","opacity":0},"encoding":{"x":{"field":"x","type":"quantitative","axis":{"orient":"top","title":null,"labels":false,"values":[-16,-12,-8,-4,0,4,8,12,16],"tickSize":-3}},"y":{"field":"y","type":"quantitative","axis":{"orient":"right","title":null,"labels":false,"values":[-16,-12,-8,-4,0,4,8,12,16],"tickSize":-3}}}}]}]},
   {"bounds":"flush","spacing":170,"resolve":{"scale":{"color":"independent"}},"hconcat":[
    {"bounds":"flush","spacing":0,"vconcat":[
     {"width":126,"height":98,"view":{"stroke":"#555","strokeWidth":1.2},"layer":[{"data":{"name":"salone"},"mark":{"type":"line","strokeWidth":1.5},"encoding":{"x":{"field":"t","type":"quantitative","scale":{"domain":[0,3000],"nice":false},"axis":{"values":[0,500,1000,1500,2000,2500,3000],"labels":false,"title":null,"tickSize":-2}},"y":{"field":"c","type":"quantitative","scale":{"domain":[-10,250],"nice":false},"axis":{"values":[0,50,100,150,200,250],"title":"Concentration (nM)","titleFontSize":5.5,"titleFontWeight":"bold","titlePadding":1,"labelFontSize":4.5,"tickSize":-2,"labelPadding":1}},"color":{"field":"s","type":"nominal","scale":{"domain":["APC_free","C_total","S_total","APC_C-bound","APC_S-bound"],"range":["#c060dc","#888888","#e5605a","#2b72b4","#eda825"]},"legend":null}}},{"data":{"values":[{}]},"mark":{"type":"text","font":"Liberation Sans","fontSize":13,"text":"S alone"},"encoding":{"x":{"datum":1214,"type":"quantitative"},"y":{"datum":220,"type":"quantitative"}}}]},
     {"width":126,"height":96,"view":{"stroke":"#555","strokeWidth":1.2},"layer":[{"data":{"name":"cand"},"mark":{"type":"line","strokeWidth":1.5},"encoding":{"x":{"field":"t","type":"quantitative","scale":{"domain":[0,3000],"nice":false},"axis":{"values":[0,500,1000,1500,2000,2500,3000],"format":"d","title":"Time (s)","titleFontSize":5.5,"titleFontWeight":"bold","titlePadding":1,"labelFontSize":4.5,"tickSize":-2,"labelPadding":1}},"y":{"field":"c","type":"quantitative","scale":{"domain":[-10,250],"nice":false},"axis":{"values":[0,50,100,150,200],"title":"Concentration (nM)","titleFontSize":5.5,"titleFontWeight":"bold","titlePadding":1,"labelFontSize":4.5,"tickSize":-2,"labelPadding":1}},"color":{"field":"s","type":"nominal","scale":{"domain":["APC_free","C_total","S_total","APC_C-bound","APC_S-bound"],"range":["#c060dc","#888888","#e5605a","#2b72b4","#eda825"]},"legend":null}}},{"data":{"values":[{}]},"mark":{"type":"text","font":"Liberation Sans","fontSize":13,"text":"S and C"},"encoding":{"x":{"datum":1070,"type":"quantitative"},"y":{"datum":220,"type":"quantitative"}}}]}]},
    {"bounds":"flush","spacing":19,"resolve":{"scale":{"color":"independent"}},"vconcat":[
     {"width":181,"height":1,"data":{"values":[{}]},"mark":{"type":"text","font":"Liberation Sans","fontSize":12,"fontWeight":"bold","dy":5,"text":"Relative change in T95 of S by adding C"},"encoding":{}},
     {"width":181,"height":175,"view":{"stroke":"#555","strokeWidth":1.5},"resolve":{"axis":{"x":"independent","y":"independent"}},"layer":[
      {"data":{"name":"grid"},"transform":[{"filter":{"field":"f","valid":true}}],"mark":{"type":"circle","size":31,"stroke":"#666","strokeWidth":0.6,"opacity":1},"encoding":{"x":{"field":"x","type":"quantitative","scale":{"domain":[-16,16],"nice":false},"axis":{"title":"kc,S (1/sec)","titlePadding":0,"values":[-16,-14.8,-13.6,-12.9,-12.4,-12,-10.8,-9.6,-8.9,-8.4,-8,-6.8,-5.6,-4.9,-4.4,-4,-2.8,-1.6,-0.9,-0.4,0,1.2,2.4,3.1,3.6,4,5.2,6.4,7.1,7.6,8,9.2,10.4,11.1,11.6,12,13.2,14.4,15.1,15.6,16],"tickSize":-3,"tickWidth":{"condition":{"test":"datum.value%4==0","value":1.2},"value":0.5},"labelExpr":"datum.value%4==0?'10'+['⁻⁴','⁻³','⁻²','⁻¹','⁰','¹','²','³','⁴'][datum.value/4+4]:''"}},"y":{"field":"y","type":"quantitative","scale":{"domain":[-16,16],"nice":false},"axis":{"title":"kd,S (1/sec)","titlePadding":3,"values":[-16,-14.8,-13.6,-12.9,-12.4,-12,-10.8,-9.6,-8.9,-8.4,-8,-6.8,-5.6,-4.9,-4.4,-4,-2.8,-1.6,-0.9,-0.4,0,1.2,2.4,3.1,3.6,4,5.2,6.4,7.1,7.6,8,9.2,10.4,11.1,11.6,12,13.2,14.4,15.1,15.6,16],"tickSize":-3,"tickWidth":{"condition":{"test":"datum.value%4==0","value":1.2},"value":0.5},"labelExpr":"datum.value%4==0?'10'+['⁻⁴','⁻³','⁻²','⁻¹','⁰','¹','²','³','⁴'][datum.value/4+4]:''"}},"color":{"field":"f","type":"quantitative","scale":{"domain":[0,15,30,45,60,75,90,105,120],"range":["#fff5f0","#fde0d8","#f8c0b8","#e88fb0","#f05060","#d83060","#b01870","#6a1070","#300a5a"]},"legend":{"values":[0,15,30,45,60,75,90,105,120],"labelExpr":"format(datum.value/100,'.2f')"}}}},
      {"data":{"values":[{"x":-23.3,"y":-6},{"x":-8,"y":-6}]},"mark":{"type":"line","stroke":"#555","strokeDash":[2,2],"strokeWidth":1},"encoding":{"x":{"field":"x","type":"quantitative","axis":null},"y":{"field":"y","type":"quantitative","axis":null}}},
      {"data":{"values":[{"x":-8,"y":-6}]},"mark":{"type":"point","shape":"square","size":16,"stroke":"black","strokeWidth":1.6,"fillOpacity":0,"opacity":1},"encoding":{"x":{"field":"x","type":"quantitative","axis":{"orient":"top","title":null,"labels":false,"values":[-16,-12,-8,-4,0,4,8,12,16],"tickSize":-3}},"y":{"field":"y","type":"quantitative","axis":{"orient":"right","title":null,"labels":false,"values":[-16,-12,-8,-4,0,4,8,12,16],"tickSize":-3}}}},
      {"mark":{"type":"text","align":"right","baseline":"middle","font":"Liberation Sans","fontSize":11.5,"text":"ka = 0.01/(nM sec)"},"data":{"values":[{}]},"encoding":{"x":{"datum":15,"type":"quantitative","axis":null},"y":{"datum":14,"type":"quantitative","axis":null}}}]}]}]}]}]}]}
]}
